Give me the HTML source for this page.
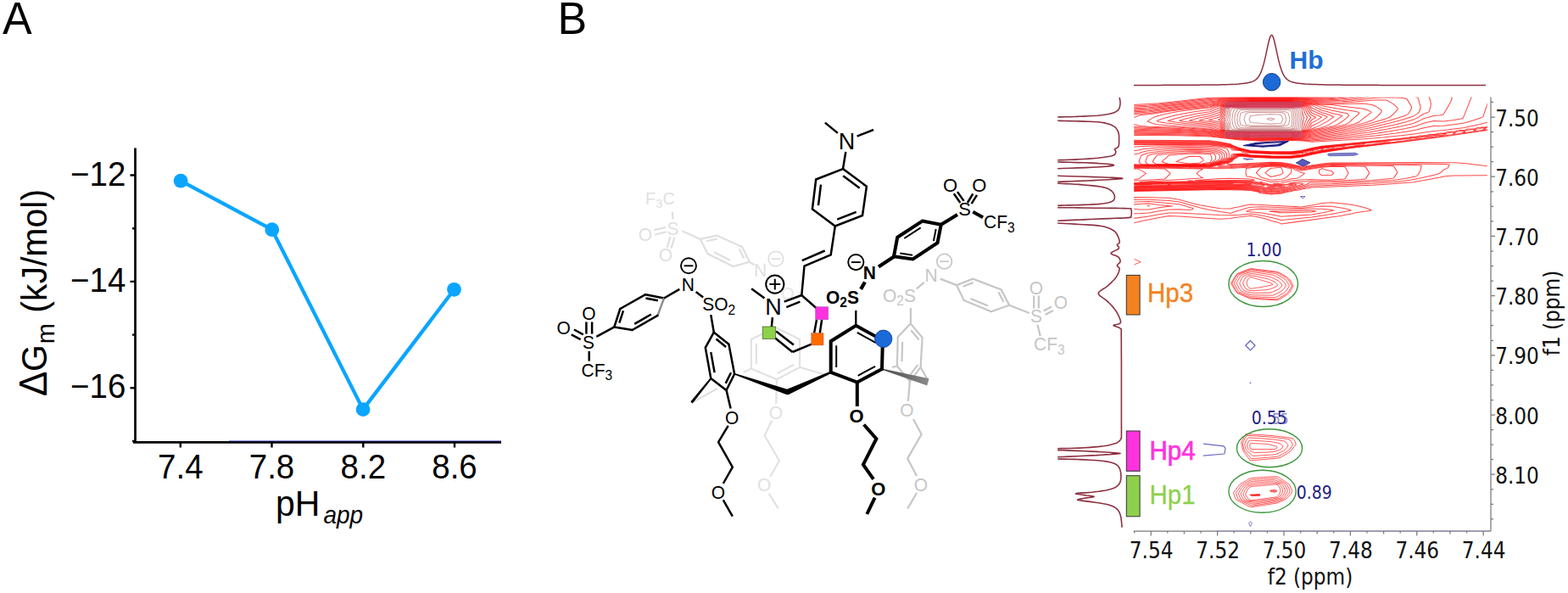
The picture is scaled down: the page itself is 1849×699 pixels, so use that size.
<!DOCTYPE html>
<html lang="en">
<head>
<meta charset="utf-8">
<title>Figure</title>
<style>
html,body{margin:0;padding:0;background:#fff;}
body{width:1849px;height:699px;overflow:hidden;}
svg{display:block;}
</style>
</head>
<body>
<svg width="1849" height="699" viewBox="0 0 1849 699">
<rect width="1849" height="699" fill="#fff"/>
<g id="panelA" font-family="Liberation Sans, Arial, sans-serif" fill="#000">
<text transform="translate(3.0,40.2) scale(1,1.045)" font-size="52" text-anchor="start">A</text>
<text transform="translate(657.4,40.2) scale(1,1.045)" font-size="52" text-anchor="start">B</text>
<path d="M159.5 174.5V521.3M157 521.3H591" stroke="#000" stroke-width="2.7" fill="none"/>
<path d="M270 519.8H591" stroke="#3434c8" stroke-width="0.9" fill="none" opacity="0.85"/>
<path d="M153.5 206.5H159.5 M156 269.2H159.5 M153.5 331.9H159.5 M156 394.6H159.5 M153.5 457.3H159.5 M156 520.0H159.5 M212.8 520.8V527.5 M320.5 520.8V527.5 M428.3 520.8V527.5 M536 520.8V527.5" stroke="#000" stroke-width="2.4" fill="none"/>
<text transform="translate(148.3,218.5) scale(1,1.045)" font-size="38.5" text-anchor="end">−12</text>
<text transform="translate(148.3,343.9) scale(1,1.045)" font-size="38.5" text-anchor="end">−14</text>
<text transform="translate(148.3,469.3) scale(1,1.045)" font-size="38.5" text-anchor="end">−16</text>
<text transform="translate(212.8,563.8) scale(1,1.045)" font-size="38.5" text-anchor="middle">7.4</text>
<text transform="translate(320.5,563.8) scale(1,1.045)" font-size="38.5" text-anchor="middle">7.8</text>
<text transform="translate(428.3,563.8) scale(1,1.045)" font-size="38.5" text-anchor="middle">8.2</text>
<text transform="translate(536,563.8) scale(1,1.045)" font-size="38.5" text-anchor="middle">8.6</text>
<text transform="translate(325,608.3) scale(1,1.045)" font-size="41" text-anchor="start">pH<tspan font-size="28" font-style="italic" dy="8" dx="4">app</tspan></text>
<text transform="translate(55,467) rotate(-90) scale(1,1.045)" font-size="41" text-anchor="start"><tspan font-size="44">Δ</tspan><tspan dx="-0.5">G</tspan><tspan font-size="29" dy="8.5" dx="1">m</tspan><tspan dy="-8.5" dx="1"> (kJ/mol)</tspan></text>
<polyline points="213.1,213.2 320.8,270.7 428.1,482.6 535.5,341.3" fill="none" stroke="#0AA5FF" stroke-width="4.3" stroke-linejoin="round"/>
<circle cx="213.1" cy="213.2" r="8.4" fill="#0AA5FF"/>
<circle cx="320.8" cy="270.7" r="8.4" fill="#0AA5FF"/>
<circle cx="428.1" cy="482.6" r="8.4" fill="#0AA5FF"/>
<circle cx="535.5" cy="341.3" r="8.4" fill="#0AA5FF"/>
</g>
<g id="mol">
<text transform="translate(761.0,241.1) scale(1,1.045)" font-family="Liberation Sans, Arial, sans-serif" font-size="20" fill="#dfdfdf" text-anchor="start">F<tspan font-size="14.8" dy="4.0">3</tspan><tspan dy="-4">C</tspan></text>
<path d="M792.6 249.7L793.6 258.5" stroke="#dfdfdf" stroke-width="2.2" stroke-linecap="butt" fill="none"/>
<text transform="translate(793.6,276.5) scale(1,1.045)" font-family="Liberation Sans, Arial, sans-serif" font-size="21" fill="#dfdfdf" text-anchor="middle">S</text>
<text transform="translate(761.0,284.0) scale(1,1.045)" font-family="Liberation Sans, Arial, sans-serif" font-size="21" fill="#dfdfdf" text-anchor="middle">O</text>
<text transform="translate(785.0,307.8) scale(1,1.045)" font-family="Liberation Sans, Arial, sans-serif" font-size="21" fill="#dfdfdf" text-anchor="middle">O</text>
<path d="M771.1 271.2L785.1 267.9" stroke="#dfdfdf" stroke-width="2.2" stroke-linecap="butt" fill="none"/>
<path d="M772.2 276.5L786.1 273.3" stroke="#dfdfdf" stroke-width="2.2" stroke-linecap="butt" fill="none"/>
<path d="M790.4 278.7L786.8 291.5" stroke="#dfdfdf" stroke-width="2.2" stroke-linecap="butt" fill="none"/>
<path d="M795.4 279.7L791.5 292.6" stroke="#dfdfdf" stroke-width="2.2" stroke-linecap="butt" fill="none"/>
<path d="M804.4 272.2L825.8 281.9" stroke="#dfdfdf" stroke-width="2.2" stroke-linecap="butt" fill="none"/>
<path d="M825.8 281.9L845.2 277.6L875.2 291.1L883.8 308.7L864.5 314.1L834.4 299.1Z" stroke="#dfdfdf" stroke-width="2.2" stroke-linejoin="miter" stroke-linecap="butt" fill="none"/>
<path d="M833.2 284.3L845.6 281.5" stroke="#dfdfdf" stroke-width="2.2" stroke-linecap="butt" fill="none"/>
<path d="M871.8 293.4L877.3 304.6" stroke="#dfdfdf" stroke-width="2.2" stroke-linecap="butt" fill="none"/>
<path d="M861.2 306.9L842.0 297.3" stroke="#dfdfdf" stroke-width="2.2" stroke-linecap="butt" fill="none"/>
<path d="M883.8 308.7L889.5 312.3" stroke="#dfdfdf" stroke-width="2.2" stroke-linecap="butt" fill="none"/>
<text transform="translate(896.7,326.1) scale(1,1.045)" font-family="Liberation Sans, Arial, sans-serif" font-size="21" fill="#dfdfdf" text-anchor="middle">N</text>
<circle cx="914.9" cy="305.1" r="8.8" fill="none" stroke="#dfdfdf" stroke-width="1.7"/>
<path d="M909.6 305.1H920.2" stroke="#dfdfdf" stroke-width="1.7" fill="none"/>
<text transform="translate(921.0,353.0) scale(1,1.045)" font-family="Liberation Sans, Arial, sans-serif" font-size="20" fill="#e6e6e6" text-anchor="start">O</text>
<path d="M885.8 400.0L914.5 386.0L943.1 400.0L943.1 432.9L915.9 447.2L885.8 434.4Z" stroke="#e2e2e2" stroke-width="2.2" stroke-linejoin="miter" stroke-linecap="butt" fill="none"/>
<path d="M891.8 429.5L891.8 404.7" stroke="#e2e2e2" stroke-width="2.2" stroke-linecap="butt" fill="none"/>
<path d="M936.1 429.8L916.5 440.1" stroke="#e2e2e2" stroke-width="2.2" stroke-linecap="butt" fill="none"/>
<path d="M885.8 434.4L876.5 439.0" stroke="#e2e2e2" stroke-width="2.2" stroke-linecap="butt" fill="none"/>
<path d="M943.1 432.9L977.4 443.0" stroke="#e2e2e2" stroke-width="2.2" stroke-linecap="butt" fill="none"/>
<path d="M915.9 447.2L915.2 476.0" stroke="#e2e2e2" stroke-width="2.2" stroke-linecap="butt" fill="none"/>
<text transform="translate(915.0,494.0) scale(1,1.045)" font-family="Liberation Sans, Arial, sans-serif" font-size="21" fill="#e2e2e2" text-anchor="middle">O</text>
<path d="M910.2 495.5L901.7 513.4L918.9 543.0L908.3 562.0" stroke="#e2e2e2" stroke-width="2.2" stroke-linejoin="round" stroke-linecap="butt" fill="none"/>
<text transform="translate(901.2,579.0) scale(1,1.045)" font-family="Liberation Sans, Arial, sans-serif" font-size="21" fill="#e2e2e2" text-anchor="middle">O</text>
<path d="M906.8 581.6L917.9 599.6" stroke="#e2e2e2" stroke-width="2.2" stroke-linecap="butt" fill="none"/>
<path d="M845.8 458.0L818.0 473.5" stroke="#e0e0e0" stroke-width="2.2" stroke-linecap="butt" fill="none"/>
<text transform="translate(1041.0,355.6) scale(1,1.045)" font-family="Liberation Sans, Arial, sans-serif" font-size="21" fill="#c6c6c6" text-anchor="start">O<tspan font-size="15.5" dy="4.2">2</tspan><tspan dy="-4.2">S</tspan></text>
<text transform="translate(1098.0,331.8) scale(1,1.045)" font-family="Liberation Sans, Arial, sans-serif" font-size="21" fill="#c6c6c6" text-anchor="middle">N</text>
<circle cx="1113.6" cy="308.2" r="8.8" fill="none" stroke="#c6c6c6" stroke-width="1.7"/>
<path d="M1108.3 308.2H1118.9" stroke="#c6c6c6" stroke-width="1.7" fill="none"/>
<path d="M1080.8 340.4L1089.8 332.9" stroke="#c6c6c6" stroke-width="2.2" stroke-linecap="butt" fill="none"/>
<path d="M1108.7 328.6L1128.0 336.1" stroke="#c6c6c6" stroke-width="2.2" stroke-linecap="butt" fill="none"/>
<path d="M1128.0 336.1L1147.3 328.6L1180.6 341.5L1190.2 359.7L1168.8 367.3L1136.6 354.0Z" stroke="#c6c6c6" stroke-width="2.2" stroke-linejoin="miter" stroke-linecap="butt" fill="none"/>
<path d="M1135.5 337.7L1147.8 332.9" stroke="#c6c6c6" stroke-width="2.2" stroke-linecap="butt" fill="none"/>
<path d="M1177.4 344.3L1183.5 355.9" stroke="#c6c6c6" stroke-width="2.2" stroke-linecap="butt" fill="none"/>
<path d="M1165.1 360.4L1144.5 351.9" stroke="#c6c6c6" stroke-width="2.2" stroke-linecap="butt" fill="none"/>
<path d="M1190.2 359.7L1213.8 369.0" stroke="#c6c6c6" stroke-width="2.2" stroke-linecap="butt" fill="none"/>
<text transform="translate(1222.0,380.3) scale(1,1.045)" font-family="Liberation Sans, Arial, sans-serif" font-size="21" fill="#c6c6c6" text-anchor="middle">S</text>
<text transform="translate(1222.0,347.1) scale(1,1.045)" font-family="Liberation Sans, Arial, sans-serif" font-size="21" fill="#c6c6c6" text-anchor="middle">O</text>
<text transform="translate(1251.0,364.1) scale(1,1.045)" font-family="Liberation Sans, Arial, sans-serif" font-size="21" fill="#c6c6c6" text-anchor="middle">O</text>
<path d="M1219.2 348.5L1219.2 363.5" stroke="#c6c6c6" stroke-width="2.2" stroke-linecap="butt" fill="none"/>
<path d="M1224.8 348.5L1224.8 363.5" stroke="#c6c6c6" stroke-width="2.2" stroke-linecap="butt" fill="none"/>
<path d="M1230.5 366.5L1240.0 361.5" stroke="#c6c6c6" stroke-width="2.2" stroke-linecap="butt" fill="none"/>
<path d="M1232.5 371.0L1242.0 366.0" stroke="#c6c6c6" stroke-width="2.2" stroke-linecap="butt" fill="none"/>
<path d="M1223.5 382.8L1226.7 396.2" stroke="#c6c6c6" stroke-width="2.2" stroke-linecap="butt" fill="none"/>
<text transform="translate(1219.0,413.4) scale(1,1.045)" font-family="Liberation Sans, Arial, sans-serif" font-size="21" fill="#c6c6c6" text-anchor="start">CF<tspan font-size="15.5" dy="4.2">3</tspan></text>
<path d="M1073.9 363.0L1073.9 381.4" stroke="#c6c6c6" stroke-width="2.2" stroke-linecap="butt" fill="none"/>
<path d="M1073.7 381.4L1087.6 397.9L1085.6 432.9L1073.0 449.4L1057.9 431.5L1058.7 397.2Z" stroke="#c6c6c6" stroke-width="2.2" stroke-linejoin="miter" stroke-linecap="butt" fill="none"/>
<path d="M1074.3 389.3L1083.7 400.5" stroke="#c6c6c6" stroke-width="2.2" stroke-linecap="butt" fill="none"/>
<path d="M1082.2 430.2L1073.7 441.4" stroke="#c6c6c6" stroke-width="2.2" stroke-linecap="butt" fill="none"/>
<path d="M1063.5 426.3L1064.1 403.0" stroke="#c6c6c6" stroke-width="2.2" stroke-linecap="butt" fill="none"/>
<path d="M1057.9 431.5L1052.0 433.0" stroke="#c6c6c6" stroke-width="2.2" stroke-linecap="butt" fill="none"/>
<path d="M1085.6 432.9L1093.5 447.0" stroke="#c6c6c6" stroke-width="2.2" stroke-linecap="butt" fill="none"/>
<path d="M1073.0 449.4L1070.8 473.0" stroke="#c6c6c6" stroke-width="2.2" stroke-linecap="butt" fill="none"/>
<text transform="translate(1069.4,491.1) scale(1,1.045)" font-family="Liberation Sans, Arial, sans-serif" font-size="21" fill="#c6c6c6" text-anchor="middle">O</text>
<path d="M1077.0 494.0L1086.6 512.0L1070.2 540.4L1081.0 561.0" stroke="#c6c6c6" stroke-width="2.2" stroke-linejoin="round" stroke-linecap="butt" fill="none"/>
<text transform="translate(1086.0,579.0) scale(1,1.045)" font-family="Liberation Sans, Arial, sans-serif" font-size="21" fill="#c6c6c6" text-anchor="middle">O</text>
<path d="M1081.0 581.0L1070.2 599.6" stroke="#c6c6c6" stroke-width="2.2" stroke-linecap="butt" fill="none"/>
<defs><linearGradient id="wg" gradientUnits="userSpaceOnUse" x1="1040" y1="435" x2="1095" y2="451"><stop offset="0" stop-color="#4a4a4a"/><stop offset="1" stop-color="#8a8a8a"/></linearGradient></defs>
<path d="M1039.8 435.7L1093.3 454.4L1095.5 446.2L1040.2 434.5Z" fill="url(#wg)"/>
<text transform="translate(694.3,376.7) scale(1,1.045)" font-family="Liberation Sans, Arial, sans-serif" font-size="21" fill="#000" text-anchor="middle">O</text>
<text transform="translate(664.7,393.9) scale(1,1.045)" font-family="Liberation Sans, Arial, sans-serif" font-size="21" fill="#000" text-anchor="middle">O</text>
<text transform="translate(694.0,411.3) scale(1,1.045)" font-family="Liberation Sans, Arial, sans-serif" font-size="21" fill="#000" text-anchor="middle">S</text>
<path d="M691.4 379.5L691.4 393.6" stroke="#000" stroke-width="2.5" stroke-linecap="butt" fill="none"/>
<path d="M698.1 379.5L698.1 393.6" stroke="#000" stroke-width="2.5" stroke-linecap="butt" fill="none"/>
<path d="M676.9 388.5L687.8 394.3" stroke="#000" stroke-width="2.5" stroke-linecap="butt" fill="none"/>
<path d="M673.7 394.3L684.6 400.1" stroke="#000" stroke-width="2.5" stroke-linecap="butt" fill="none"/>
<path d="M703.3 396.8L724.5 385.3" stroke="#000" stroke-width="2.5" stroke-linecap="butt" fill="none"/>
<path d="M694.7 414.0L694.7 425.6" stroke="#000" stroke-width="2.5" stroke-linecap="butt" fill="none"/>
<text transform="translate(685.6,443.8) scale(1,1.045)" font-family="Liberation Sans, Arial, sans-serif" font-size="21" fill="#000" text-anchor="start">CF<tspan font-size="15.5" dy="4.2">3</tspan></text>
<path d="M724.3 385.5L731.3 364.0" stroke="#000" stroke-width="2.5" stroke-linecap="round" fill="none"/>
<path d="M731.3 364.0L761.2 347.2" stroke="#000" stroke-width="2.5" stroke-linecap="round" fill="none"/>
<path d="M761.2 347.2L783.0 351.5" stroke="#000" stroke-width="2.5" stroke-linecap="round" fill="none"/>
<path d="M783.0 351.5L775.5 371.9" stroke="#8f8f8f" stroke-width="2.5" stroke-linecap="round" fill="none"/>
<path d="M775.5 371.9L745.6 389.0" stroke="#000" stroke-width="2.5" stroke-linecap="round" fill="none"/>
<path d="M745.6 389.0L724.3 385.5" stroke="#000" stroke-width="2.5" stroke-linecap="round" fill="none"/>
<path d="M730.3 380.6L735.0 366.4" stroke="#000" stroke-width="2.5" stroke-linecap="butt" fill="none"/>
<path d="M761.4 351.5L775.8 354.3" stroke="#000" stroke-width="2.5" stroke-linecap="butt" fill="none"/>
<path d="M767.9 370.5L748.2 381.8" stroke="#000" stroke-width="2.5" stroke-linecap="butt" fill="none"/>
<path d="M783.0 351.5L801.3 340.8" stroke="#000" stroke-width="2.5" stroke-linecap="butt" fill="none"/>
<text transform="translate(811.4,342.9) scale(1,1.045)" font-family="Liberation Sans, Arial, sans-serif" font-size="21" fill="#000" text-anchor="middle">N</text>
<circle cx="812.0" cy="313.3" r="9.0" fill="none" stroke="#000" stroke-width="1.9"/>
<path d="M806.6 313.3H817.4" stroke="#000" stroke-width="1.9" fill="none"/>
<path d="M820.6 344.0L829.2 350.4" stroke="#000" stroke-width="2.5" stroke-linecap="butt" fill="none"/>
<text transform="translate(828.2,366.3) scale(1,1.045)" font-family="Liberation Sans, Arial, sans-serif" font-size="21" fill="#000" text-anchor="start">SO<tspan font-size="15.5" dy="4.2">2</tspan></text>
<path d="M838.3 371.1L841.8 391.7" stroke="#000" stroke-width="2.5" stroke-linecap="butt" fill="none"/>
<path d="M841.8 391.7L859.4 405.8L866.1 440.8L856.5 460.1L838.3 446.1L831.8 409.8Z" stroke="#000" stroke-width="2.5" stroke-linejoin="miter" stroke-linecap="butt" fill="none"/>
<path d="M844.5 399.6L856.1 408.9" stroke="#000" stroke-width="2.5" stroke-linecap="butt" fill="none"/>
<path d="M862.0 439.2L855.7 451.9" stroke="#000" stroke-width="2.5" stroke-linecap="butt" fill="none"/>
<path d="M842.6 439.1L838.3 415.1" stroke="#000" stroke-width="2.5" stroke-linecap="butt" fill="none"/>
<path d="M837.5 445.5L814.3 473.6L816.7 475.4L839.1 446.7Z" fill="#000"/>
<path d="M856.6 460.1L861.6 481.5" stroke="#000" stroke-width="2.5" stroke-linecap="butt" fill="none"/>
<text transform="translate(863.1,500.3) scale(1,1.045)" font-family="Liberation Sans, Arial, sans-serif" font-size="21" fill="#000" text-anchor="middle">O</text>
<path d="M858.7 501.8L847.1 521.1L863.8 550.7L852.8 570.0" stroke="#000" stroke-width="2.5" stroke-linejoin="round" stroke-linecap="butt" fill="none"/>
<text transform="translate(846.8,587.8) scale(1,1.045)" font-family="Liberation Sans, Arial, sans-serif" font-size="21" fill="#000" text-anchor="middle">O</text>
<path d="M852.8 589.3L863.8 608.6" stroke="#000" stroke-width="2.5" stroke-linecap="butt" fill="none"/>
<path d="M972.9 144.6L987.9 156.9" stroke="#000" stroke-width="2.5" stroke-linecap="butt" fill="none"/>
<path d="M1030.0 153.0L1010.6 160.6" stroke="#000" stroke-width="2.5" stroke-linecap="butt" fill="none"/>
<text transform="translate(998.5,176.0) scale(1,1.045)" font-family="Liberation Sans, Arial, sans-serif" font-size="27" fill="#000" text-anchor="middle">N</text>
<path d="M997.3 179.0L994.0 199.1" stroke="#000" stroke-width="2.5" stroke-linecap="butt" fill="none"/>
<path d="M994.0 199.1L1021.9 219.7L1017.0 254.0L984.8 266.5L957.9 246.5L962.2 211.5Z" stroke="#000" stroke-width="2.5" stroke-linejoin="miter" stroke-linecap="butt" fill="none"/>
<path d="M994.2 207.3L1013.7 221.7" stroke="#000" stroke-width="2.5" stroke-linecap="butt" fill="none"/>
<path d="M1009.7 249.9L987.2 258.6" stroke="#000" stroke-width="2.5" stroke-linecap="butt" fill="none"/>
<path d="M965.0 242.1L968.0 217.6" stroke="#000" stroke-width="2.5" stroke-linecap="butt" fill="none"/>
<path d="M984.8 266.5L979.7 300.4L948.5 313.5L945.3 348.0" stroke="#000" stroke-width="2.5" stroke-linejoin="miter" stroke-linecap="butt" fill="none"/>
<path d="M972.7 295.5L945.8 307.2" stroke="#000" stroke-width="2.5" stroke-linecap="butt" fill="none"/>
<path d="M945.3 348.0L924.7 355.7" stroke="#000" stroke-width="2.5" stroke-linecap="butt" fill="none"/>
<path d="M943.4 355.7L927.3 362.1" stroke="#000" stroke-width="2.5" stroke-linecap="butt" fill="none"/>
<text transform="translate(911.9,371.4) scale(1,1.045)" font-family="Liberation Sans, Arial, sans-serif" font-size="27" fill="#000" text-anchor="middle">N</text>
<circle cx="913.8" cy="335.1" r="10.6" fill="none" stroke="#000" stroke-width="2.0"/>
<path d="M907.4 335.1H920.2M913.8 328.7V341.5" stroke="#000" stroke-width="2.0" fill="none"/>
<path d="M886.1 340.3L901.5 351.5" stroke="#000" stroke-width="2.5" stroke-linecap="butt" fill="none"/>
<path d="M945.3 348.0L963.0 363.5" stroke="#000" stroke-width="2.5" stroke-linecap="butt" fill="none"/>
<path d="M963.0 377.0L960.1 392.6" stroke="#000" stroke-width="2.5" stroke-linecap="butt" fill="none"/>
<path d="M969.1 377.0L966.8 392.6" stroke="#000" stroke-width="2.5" stroke-linecap="butt" fill="none"/>
<path d="M957.0 405.6L934.5 415.0" stroke="#000" stroke-width="2.5" stroke-linecap="butt" fill="none"/>
<path d="M934.5 415.0L913.5 398.0" stroke="#000" stroke-width="2.5" stroke-linecap="butt" fill="none"/>
<path d="M935.9 406.5L915.2 390.5" stroke="#000" stroke-width="2.5" stroke-linecap="butt" fill="none"/>
<path d="M910.9 374.1L909.9 385.0" stroke="#000" stroke-width="2.5" stroke-linecap="butt" fill="none"/>
<rect x="961.6" y="361.7" width="15" height="15" fill="#FF30E0" stroke="#5a1a90" stroke-width="0.7" stroke-dasharray="1 1"/>
<rect x="956.7" y="392.6" width="14.3" height="14.3" fill="#FF6A00" stroke="#a03020" stroke-width="0.7" stroke-dasharray="1 1"/>
<rect x="899.2" y="385" width="15.3" height="14.4" fill="#8CD24A" stroke="#3a5a20" stroke-width="0.7"/>
<text transform="translate(1025.3,328.7) scale(1,1.045)" font-family="Liberation Sans, Arial, sans-serif" font-size="21" fill="#000" text-anchor="middle" font-weight="bold">N</text>
<circle cx="1009.3" cy="309.1" r="9.1" fill="none" stroke="#000" stroke-width="1.9"/>
<path d="M1003.8 309.1H1014.8" stroke="#000" stroke-width="1.9" fill="none"/>
<path d="M1019.9 332.5L1015.1 340.9" stroke="#000" stroke-width="4.2" stroke-linecap="butt" fill="none"/>
<text transform="translate(974.0,358.0) scale(1,1.045)" font-family="Liberation Sans, Arial, sans-serif" font-size="21" fill="#000" text-anchor="start" font-weight="bold">O<tspan font-size="15.5" dy="4.2">2</tspan><tspan dy="-4.2">S</tspan></text>
<path d="M1009.3 366.0L1009.3 384.0" stroke="#000" stroke-width="2.3" stroke-linecap="butt" fill="none"/>
<path d="M1036.0 314.5L1054.6 302.2" stroke="#000" stroke-width="4.2" stroke-linecap="butt" fill="none"/>
<path d="M1087.6 260.5L1109.7 264.8L1105.5 286.2L1076.5 305.5L1054.0 302.3L1058.2 279.8Z" stroke="#000" stroke-width="4.0" stroke-linejoin="miter" stroke-linecap="butt" fill="none"/>
<path d="M1066.3 281.0L1085.7 268.3" stroke="#000" stroke-width="2.0" stroke-linecap="butt" fill="none"/>
<path d="M1103.7 270.0L1100.9 284.1" stroke="#000" stroke-width="2.0" stroke-linecap="butt" fill="none"/>
<path d="M1076.1 300.7L1061.3 298.6" stroke="#000" stroke-width="2.0" stroke-linecap="butt" fill="none"/>
<path d="M1109.7 264.8L1129.0 253.0" stroke="#000" stroke-width="4.0" stroke-linecap="butt" fill="none"/>
<text transform="translate(1137.6,253.6) scale(1,1.045)" font-family="Liberation Sans, Arial, sans-serif" font-size="22" fill="#000" text-anchor="middle">S</text>
<text transform="translate(1120.5,226.3) scale(1,1.045)" font-family="Liberation Sans, Arial, sans-serif" font-size="22" fill="#000" text-anchor="middle">O</text>
<text transform="translate(1154.8,226.3) scale(1,1.045)" font-family="Liberation Sans, Arial, sans-serif" font-size="22" fill="#000" text-anchor="middle">O</text>
<path d="M1124.8 228.3L1132.3 239.0" stroke="#000" stroke-width="2.5" stroke-linecap="butt" fill="none"/>
<path d="M1129.0 226.1L1136.6 236.9" stroke="#000" stroke-width="2.5" stroke-linecap="butt" fill="none"/>
<path d="M1147.3 228.3L1140.9 239.0" stroke="#000" stroke-width="2.5" stroke-linecap="butt" fill="none"/>
<path d="M1152.0 229.8L1145.6 240.1" stroke="#000" stroke-width="2.5" stroke-linecap="butt" fill="none"/>
<path d="M1147.3 249.7L1159.1 256.2" stroke="#000" stroke-width="4.0" stroke-linecap="butt" fill="none"/>
<text transform="translate(1160.0,269.3) scale(1,1.045)" font-family="Liberation Sans, Arial, sans-serif" font-size="21" fill="#000" text-anchor="start">CF<tspan font-size="15.5" dy="4.2">3</tspan></text>
<path d="M1009.3 383.8L1040.9 401.1L1040.0 435.0L1010.8 450.6L979.7 438.9L979.7 402.2Z" stroke="#000" stroke-width="4.0" stroke-linejoin="miter" stroke-linecap="butt" fill="none"/>
<path d="M1010.8 392.0L1032.9 404.1" stroke="#000" stroke-width="2.0" stroke-linecap="butt" fill="none"/>
<path d="M1032.1 431.8L1011.7 442.8" stroke="#000" stroke-width="2.0" stroke-linecap="butt" fill="none"/>
<path d="M986.2 433.0L986.2 407.3" stroke="#000" stroke-width="2.0" stroke-linecap="butt" fill="none"/>
<circle cx="1041.7" cy="399.3" r="10.2" fill="#1C69DA" stroke="#0e3f94" stroke-width="0.9"/>
<path d="M1010.8 450.6L1010.8 479.0" stroke="#000" stroke-width="4.0" stroke-linecap="butt" fill="none"/>
<text transform="translate(1010.1,498.2) scale(1,1.045)" font-family="Liberation Sans, Arial, sans-serif" font-size="22" fill="#000" text-anchor="middle" font-weight="bold">O</text>
<path d="M1018.7 500.5L1033.4 517.2L1017.9 547.6L1030.0 564.8" stroke="#000" stroke-width="4.0" stroke-linejoin="miter" stroke-linecap="butt" fill="none"/>
<text transform="translate(1035.9,584.4) scale(1,1.045)" font-family="Liberation Sans, Arial, sans-serif" font-size="22" fill="#000" text-anchor="middle" font-weight="bold">O</text>
<path d="M1031.6 586.7L1022.3 606.0" stroke="#000" stroke-width="4.0" stroke-linecap="butt" fill="none"/>
<path d="M865.8 441.6L928.4 465.6L930.6 459.4L866.4 440.0Z" fill="#000"/>
<path d="M979.2 437.8L926.4 459.5L929.2 465.5L980.2 440.0Z" fill="#000"/>
</g>
<g id="nmr">
<defs><clipPath id="cw"><rect x="1337.3" y="114.6" width="416.5" height="177.4"/></clipPath>
<clipPath id="cbox"><rect x="1444.3" y="120.0" width="91.0" height="42.0"/></clipPath>
<clipPath id="cout"><path clip-rule="evenodd" d="M1337.3 114.6H1753.8V292.0H1337.3ZM1444.3 120.0H1535.3V162.0H1444.3Z"/></clipPath>
<g id="cl" fill="none" stroke-width="1.05" stroke-linejoin="round">
<path d="M1318.7 124.1L1330.7 123.9L1354.7 122.6L1366.7 121.8L1388.3 119.6L1414.7 116.4L1426.7 115.3L1438.7 114.8L1450.7 114.7L1558.7 114.3L1583.0 112.1L1596.6 110.6M1774.7 137.7L1769.6 139.6L1762.7 141.4L1756.7 143.6L1745.2 146.6L1726.7 150.5L1714.7 152.1L1702.7 153.5L1690.7 154.5L1678.7 156.2L1670.5 157.6L1659.1 159.1L1630.6 162.1L1612.3 163.6L1596.9 164.6L1546.7 167.3L1542.5 166.6L1536.9 166.1L1522.7 165.4L1486.7 166.2L1474.7 165.6L1462.7 164.9L1426.7 161.0L1390.7 159.8L1318.7 159.5M1774.7 151.2L1764.2 152.1L1756.1 153.1L1702.7 160.9L1652.7 167.6L1594.7 174.3L1558.7 179.8L1546.7 182.2L1534.7 184.9L1525.1 186.1L1522.7 186.3L1498.7 186.2L1474.7 185.3L1462.7 183.9L1460.4 184.6L1458.3 185.6L1454.4 188.1L1453.4 189.6L1452.3 190.6L1448.0 192.1L1447.6 192.6L1450.7 193.7L1498.7 191.3L1510.7 191.6L1522.7 193.4L1526.5 194.6L1534.7 196.3L1545.2 195.1L1556.2 193.6L1558.7 193.1L1570.7 191.9L1678.7 191.6L1714.7 191.7L1726.7 192.6L1762.7 196.8L1774.7 197.6M1318.7 165.2L1426.7 165.8L1432.0 166.6L1438.7 167.3L1444.0 168.6L1450.7 169.6L1455.1 172.1L1460.2 174.1L1462.7 174.8L1474.7 177.6L1498.7 178.7L1522.7 178.8L1534.7 177.4L1546.7 174.6L1558.7 172.3L1649.2 163.6L1661.8 162.1L1663.3 161.6L1669.6 161.1L1672.8 160.6L1674.1 160.1L1678.7 159.9L1681.6 159.6L1686.2 158.6L1690.7 158.5L1693.6 158.1L1694.7 157.6L1697.4 157.1L1702.7 156.9L1705.1 156.6L1705.5 156.1L1707.0 155.6L1715.5 155.1L1717.0 154.6L1717.8 154.1L1721.5 153.6L1726.7 153.4L1728.9 153.1L1729.2 152.6L1730.7 152.1L1738.7 151.8L1740.1 151.6L1742.3 150.6L1748.0 150.1L1750.7 150.1L1754.3 149.6L1753.9 149.1L1756.4 148.6L1762.7 148.3L1774.7 147.3M1774.7 206.7L1714.7 207.0L1707.3 207.6L1702.7 208.0L1698.1 209.1L1685.0 211.6L1670.4 214.1L1666.7 214.7L1657.1 215.6L1630.7 217.6L1618.7 218.3L1558.7 220.4L1546.7 221.1L1542.4 222.1L1537.6 222.6L1531.2 224.1L1526.5 224.6L1520.2 226.1L1516.5 226.6L1514.1 227.1L1510.7 228.3L1498.7 229.1L1495.9 228.6L1486.7 227.7L1484.3 226.6L1482.7 226.1L1474.7 224.6L1462.7 223.9L1438.7 223.6L1330.7 225.6L1318.7 225.0M1330.7 232.6L1354.7 232.7L1378.7 233.3L1382.6 234.1L1390.7 235.3L1394.5 236.6L1400.5 238.1L1405.6 239.6L1414.7 241.7L1438.7 245.7L1450.7 246.1L1457.0 244.6L1460.3 244.1L1466.6 242.6L1474.7 241.0L1486.7 241.5L1534.7 243.9L1554.8 240.6L1558.7 239.6L1570.7 238.7L1587.9 240.6L1597.7 242.1L1604.4 243.6L1611.7 245.6L1616.7 247.6L1617.0 248.1L1610.9 249.1L1606.7 249.6L1597.7 251.1L1594.7 251.8L1585.1 253.6L1582.7 254.2L1577.1 255.1L1510.7 263.9L1508.2 262.6L1498.7 260.2L1494.7 258.6L1482.4 255.6L1474.7 254.3L1455.7 256.6L1450.7 257.6L1438.7 258.2L1390.7 255.0L1378.7 254.6L1369.7 256.1L1346.1 260.6L1342.7 261.6L1333.3 263.6L1330.7 264.7L1329.8 242.6L1330.1 236.6L1330.7 232.6"/>
<path d="M1757.9 110.6L1753.5 124.1L1748.8 137.6L1746.9 138.6L1744.5 139.6L1735.3 142.6L1726.7 145.0L1714.7 146.7L1702.7 148.2L1690.7 148.5L1678.7 150.7L1670.2 153.1L1662.7 154.6L1646.1 157.1L1622.3 160.1L1596.5 162.6L1546.7 166.1L1534.7 165.2L1522.7 164.8L1486.7 165.6L1462.7 164.3L1450.7 163.1L1438.7 161.4L1426.7 160.1L1390.7 158.7L1318.7 158.2M1318.7 125.5L1330.7 125.3L1354.7 124.0L1366.7 123.0L1378.7 121.8L1414.7 117.6L1431.9 116.1L1450.7 115.3L1470.0 115.1L1522.7 115.0L1558.7 115.3L1577.2 113.6L1600.6 110.6M1774.7 150.6L1758.0 152.1L1750.7 153.4L1747.9 153.6L1738.7 155.1L1733.6 155.6L1726.7 156.8L1723.4 157.1L1714.7 158.6L1709.4 159.1L1702.7 160.3L1699.2 160.6L1690.7 161.9L1654.7 166.8L1594.7 173.9L1558.7 179.4L1545.5 182.1L1534.7 184.6L1526.5 185.6L1522.7 186.0L1498.7 185.9L1474.7 184.9L1462.7 183.5L1460.4 184.1L1458.1 185.1L1453.6 188.1L1452.3 189.6L1451.6 190.1L1448.3 191.6L1446.7 192.1L1446.0 192.6L1446.8 193.1L1447.7 194.1L1450.7 194.6L1474.7 193.4L1498.7 192.0L1510.7 192.2L1522.7 194.1L1526.1 195.1L1531.0 196.1L1534.7 197.2L1546.7 195.7L1558.7 193.9L1570.7 192.8L1678.7 193.2L1702.7 193.6L1709.2 194.1L1708.1 196.6L1706.8 198.1L1705.1 199.1L1702.7 199.8L1698.0 204.1L1695.6 205.1L1694.2 205.6L1684.0 208.1L1672.3 210.6L1664.0 212.1L1654.7 213.4L1642.7 214.6L1618.7 216.3L1591.1 217.6L1546.7 219.2L1541.3 220.6L1529.8 223.1L1522.7 224.4L1510.7 227.3L1498.7 228.2L1486.7 226.8L1483.2 225.6L1474.7 223.8L1462.7 223.2L1438.7 223.0L1330.7 225.0L1324.6 224.6L1321.2 224.1L1318.7 223.4M1318.7 165.9L1426.7 166.5L1438.7 168.0L1441.1 168.6L1450.7 170.2L1455.1 172.6L1460.3 174.6L1474.7 178.0L1498.7 179.1L1522.7 179.2L1534.7 177.8L1546.7 175.0L1558.7 172.7L1644.8 164.6L1658.5 163.1L1677.8 160.6L1683.2 160.1L1689.8 159.1L1695.5 158.6L1701.3 157.6L1707.2 157.1L1711.3 156.1L1717.2 155.6L1720.8 155.1L1722.0 154.6L1731.7 153.6L1735.7 152.6L1742.0 152.1L1745.1 151.6L1746.4 151.1L1756.1 150.1L1760.5 149.1L1774.7 147.9M1330.7 235.6L1342.7 235.2L1354.7 235.2L1378.7 236.5L1390.7 238.0L1414.7 244.8L1426.7 247.4L1438.7 249.6L1445.7 250.6L1450.7 251.6L1457.6 249.1L1462.7 247.7L1469.2 245.6L1474.7 244.2L1486.7 243.8L1534.7 245.5L1546.7 244.0L1558.7 242.9L1570.7 243.2L1584.5 245.6L1590.7 247.1L1592.4 247.6L1593.2 248.1L1577.7 251.1L1566.2 253.1L1546.7 256.0L1510.7 259.5L1505.5 258.1L1490.5 254.6L1482.3 253.1L1474.7 252.1L1462.7 253.2L1450.7 253.7L1438.7 253.5L1390.7 250.9L1378.7 250.9L1366.7 252.8L1354.7 255.0L1330.7 258.2L1330.1 243.1L1330.7 235.6"/>
<path d="M1735.9 110.6L1736.0 111.1L1735.6 113.1L1731.4 124.1L1726.7 135.9L1725.2 139.1L1724.7 139.6L1722.7 140.1L1714.7 141.4L1702.7 142.9L1690.7 142.5L1678.7 145.2L1674.3 147.1L1668.5 149.1L1664.7 150.1L1657.5 151.6L1646.5 153.6L1627.6 156.6L1613.4 158.6L1601.0 160.1L1591.2 161.1L1546.7 165.0L1522.7 164.3L1486.7 165.0L1462.7 163.8L1450.7 162.5L1438.7 160.7L1426.7 159.2L1390.7 157.7L1318.7 156.9M1318.7 126.9L1330.7 126.7L1354.7 125.3L1378.7 123.0L1414.7 118.8L1432.3 117.1L1447.6 116.1L1462.7 115.7L1474.7 115.6L1522.7 115.5L1558.7 116.3L1570.7 115.4L1582.7 114.3L1594.1 112.6L1604.6 110.6M1774.7 149.9L1769.6 150.1L1763.9 150.6L1762.7 151.1L1761.6 150.6L1762.3 149.6L1762.7 149.5L1773.1 149.1L1774.0 148.6L1774.7 148.5M1750.2 151.6L1750.7 151.4L1752.0 151.6L1751.4 152.1L1751.1 152.6L1750.7 152.7L1748.8 152.6L1749.9 152.1L1750.2 151.6M1738.2 153.1L1740.8 153.1L1739.5 153.6L1739.2 154.1L1738.7 154.3L1737.5 154.1L1738.1 153.6L1738.2 153.1M1726.2 155.1L1726.7 154.8L1727.8 155.1L1727.3 155.6L1727.1 156.1L1724.4 156.1L1725.8 155.6L1726.2 155.1M1714.2 156.6L1716.4 156.6L1715.5 157.1L1715.2 157.6L1714.7 157.8L1713.4 157.6L1714.0 157.1L1714.2 156.6M1318.7 166.7L1426.7 167.3L1438.7 168.7L1450.7 170.8L1455.1 173.1L1460.4 175.1L1474.7 178.4L1498.7 179.5L1522.7 179.6L1534.7 178.2L1546.7 175.4L1558.7 173.1L1630.7 166.4L1635.4 166.1L1642.7 165.3L1647.3 165.1L1654.7 164.0L1662.0 163.6L1666.7 162.5L1675.0 162.1L1678.7 161.1L1688.3 160.6L1690.5 159.6L1701.4 159.1L1702.4 158.1L1705.7 158.1L1703.7 158.6L1703.1 159.6L1702.7 159.7L1693.5 160.1L1692.2 160.6L1691.7 161.1L1690.7 161.3L1684.0 161.6L1681.3 162.1L1680.4 162.6L1678.7 162.9L1670.4 163.6L1666.9 164.6L1659.8 165.1L1655.9 166.1L1649.7 166.6L1644.4 167.6L1639.0 168.1L1636.2 168.6L1593.6 173.6L1558.7 179.0L1546.1 181.6L1534.7 184.3L1522.7 185.7L1498.7 185.5L1487.8 185.1L1474.7 184.5L1462.7 183.1L1460.5 183.6L1457.8 184.6L1452.8 188.1L1451.1 189.6L1448.1 191.1L1445.3 192.1L1444.5 192.6L1444.6 193.1L1444.0 193.6L1442.1 194.1L1438.7 194.4L1437.4 195.1L1438.7 195.8L1450.7 195.6L1474.7 194.3L1498.7 192.7L1510.7 192.9L1522.7 194.9L1529.8 196.6L1534.7 198.2L1558.7 194.8L1570.7 193.6L1666.7 194.6L1676.2 195.1L1674.8 201.6L1671.8 206.6L1669.1 208.1L1657.0 210.6L1642.7 212.4L1622.2 214.1L1606.8 215.1L1570.7 216.8L1546.7 217.3L1540.6 219.1L1528.5 222.1L1522.7 223.3L1510.7 226.3L1498.7 227.2L1486.7 225.8L1481.9 224.6L1474.7 223.1L1462.7 222.5L1438.7 222.4L1330.7 224.5L1323.8 223.6L1320.3 222.6L1318.7 221.8M1338.9 238.1L1354.7 237.6L1390.7 240.7L1398.6 243.1L1399.7 243.6L1407.0 245.6L1406.3 246.6L1405.0 247.1L1402.7 247.4L1390.7 246.8L1378.7 247.1L1366.7 248.8L1354.7 251.0L1342.7 251.8L1330.7 251.8L1330.4 243.1L1330.7 238.7L1338.9 238.1M1481.7 246.6L1486.7 246.2L1510.7 246.8L1534.7 247.1L1546.7 246.2L1558.7 246.2L1567.3 247.1L1572.9 248.1L1561.0 250.6L1546.7 253.0L1510.7 255.2L1502.7 253.6L1487.6 251.1L1471.6 249.6L1470.0 249.1L1470.7 248.6L1473.9 247.6L1474.7 247.4L1481.7 246.6"/>
<path d="M1709.9 110.6L1710.6 111.6L1712.2 115.6L1711.5 118.1L1708.4 124.1L1704.7 130.6L1702.6 134.1L1701.3 135.1L1700.0 135.6L1697.1 136.1L1690.7 136.5L1678.7 139.7L1673.3 142.6L1666.7 145.4L1660.2 147.1L1651.5 149.1L1636.4 152.1L1613.6 156.1L1592.0 159.1L1546.7 163.8L1522.7 163.7L1486.7 164.4L1462.7 163.2L1450.7 161.9L1438.7 159.9L1426.7 158.3L1390.7 156.6L1318.7 155.6M1318.7 128.3L1330.7 128.1L1354.7 126.7L1366.7 125.5L1414.7 119.9L1432.6 118.1L1450.7 116.6L1474.7 116.1L1522.7 116.0L1534.7 116.3L1558.7 117.3L1577.2 116.1L1591.2 114.6L1599.8 113.1L1610.5 110.6M1318.7 167.4L1426.7 168.0L1438.7 169.4L1450.7 171.5L1453.9 173.1L1458.6 175.1L1474.7 178.7L1498.7 179.9L1522.7 180.0L1534.9 178.6L1546.7 175.8L1558.7 173.5L1606.7 169.0L1613.6 168.6L1618.7 168.0L1627.3 167.6L1629.0 167.1L1630.7 166.9L1639.2 167.1L1634.6 167.6L1632.6 168.1L1631.9 168.6L1624.5 169.1L1619.3 170.1L1613.3 170.6L1610.9 171.1L1601.6 172.1L1590.4 173.6L1556.1 179.1L1544.0 181.6L1540.7 182.6L1534.7 183.9L1522.7 185.4L1495.8 185.1L1474.7 184.2L1462.7 182.8L1458.7 183.6L1457.4 184.1L1455.8 185.1L1454.8 186.1L1450.7 189.2L1446.7 191.1L1443.9 192.1L1442.9 192.6L1442.4 193.1L1440.8 193.6L1438.7 193.9L1436.6 194.6L1435.7 195.1L1436.1 196.1L1437.1 196.6L1438.7 196.8L1450.7 196.5L1462.7 195.9L1474.7 195.2L1498.7 193.4L1510.7 193.5L1522.7 195.6L1528.6 197.1L1534.7 199.1L1558.7 195.6L1570.7 194.5L1642.9 195.6L1643.6 196.1L1644.9 198.1L1647.6 203.1L1647.7 203.6L1644.0 209.1L1643.1 210.1L1642.7 210.2L1618.7 212.4L1594.7 214.0L1570.7 215.1L1546.7 215.3L1543.3 215.6L1542.5 216.1L1542.8 216.6L1540.2 217.6L1529.5 220.6L1522.7 222.2L1511.8 225.1L1510.7 225.3L1498.7 226.3L1486.7 224.9L1481.2 223.6L1474.7 222.3L1462.7 221.9L1438.7 221.8L1330.7 223.9L1325.5 223.1L1323.5 222.6L1320.8 221.6L1318.7 220.2M1353.4 240.1L1354.7 240.1L1366.7 241.6L1382.4 243.1L1378.7 243.3L1366.7 244.8L1354.7 246.9L1342.7 246.9L1340.0 246.6L1330.7 245.4L1330.7 241.8L1342.7 240.5L1353.4 240.1M1539.0 248.6L1546.7 248.4L1550.3 248.6L1551.5 249.1L1546.7 249.9L1510.7 250.8L1496.8 249.1L1498.7 248.8L1510.7 248.9L1539.0 248.6"/>
<path d="M1679.0 110.6L1681.9 112.1L1684.1 113.6L1685.1 114.6L1685.8 115.6L1687.4 122.1L1687.0 125.6L1685.4 131.1L1685.0 131.6L1683.4 132.6L1682.3 133.1L1678.7 134.2L1672.7 138.1L1666.7 141.1L1658.6 143.6L1646.9 146.6L1626.3 151.1L1613.7 153.6L1602.5 155.6L1592.5 157.1L1564.6 160.6L1546.7 162.6L1536.9 163.1L1522.7 163.1L1486.7 163.8L1462.7 162.6L1450.7 161.3L1438.7 159.2L1426.7 157.5L1390.7 155.6L1318.7 154.3M1318.7 129.7L1330.7 129.5L1354.7 128.0L1390.7 123.8L1426.7 119.9L1441.5 118.1L1450.7 117.2L1462.7 116.8L1474.7 116.6L1522.7 116.5L1534.7 116.9L1558.7 118.3L1581.0 117.1L1591.3 116.1L1598.3 115.1L1610.8 112.6L1618.8 110.6M1318.7 168.2L1390.7 168.4L1426.7 168.8L1438.7 170.1L1450.7 172.1L1456.8 175.1L1458.3 175.6L1466.0 177.1L1471.3 178.6L1474.5 179.1L1498.7 180.3L1510.7 180.5L1522.7 180.5L1537.5 178.6L1540.8 177.6L1546.7 176.2L1558.7 173.9L1582.7 171.7L1586.0 171.6L1594.7 170.6L1605.7 170.1L1606.2 169.6L1606.7 169.5L1609.7 169.6L1608.0 170.1L1607.3 170.6L1607.0 171.1L1598.7 171.6L1594.7 172.5L1589.2 173.1L1585.2 174.1L1556.1 178.6L1552.4 179.6L1541.9 181.6L1539.2 182.6L1534.7 183.6L1522.7 185.0L1498.7 184.9L1474.7 183.8L1462.7 182.4L1461.1 182.6L1458.5 183.1L1455.9 184.1L1454.7 185.1L1453.9 186.1L1450.7 188.5L1446.5 190.6L1440.2 193.1L1435.1 194.6L1434.0 195.1L1433.6 195.6L1432.6 196.1L1426.7 196.8L1402.4 197.1L1438.7 197.7L1450.7 197.5L1474.7 196.1L1498.7 194.0L1510.7 194.2L1523.7 196.6L1529.1 198.1L1534.7 200.1L1558.7 196.4L1570.7 195.4L1607.3 196.1L1610.3 196.6L1613.1 201.1L1614.5 203.6L1614.6 204.1L1610.5 210.6L1609.5 211.1L1605.0 211.6L1594.7 212.3L1570.7 213.5L1546.7 213.4L1534.7 214.2L1522.7 215.4L1519.9 216.1L1522.7 216.3L1534.7 216.3L1536.8 216.6L1536.5 217.1L1528.5 219.6L1510.7 224.4L1498.7 225.4L1486.7 224.0L1474.7 221.6L1462.7 221.2L1438.7 221.2L1330.7 223.3L1326.7 222.6L1323.3 221.6L1320.4 220.1L1318.7 218.6M1352.7 242.6L1355.5 242.6L1354.7 242.8L1352.7 242.6"/>
<path d="M1318.7 131.2L1330.7 130.9L1354.7 129.4L1390.7 124.9L1426.7 121.1L1443.9 118.6L1450.7 117.9L1462.7 117.3L1474.7 117.1L1522.7 117.0L1537.0 117.6L1558.7 119.3L1564.7 119.1L1582.7 118.3L1594.7 117.3L1611.2 114.6L1618.7 113.0L1642.7 111.0L1654.7 110.8L1666.7 112.8L1669.7 114.1L1672.1 115.6L1672.5 116.1L1672.9 117.6L1675.1 126.1L1674.0 131.1L1671.5 134.1L1670.7 134.6L1666.7 136.9L1664.8 137.6L1657.4 140.1L1647.1 143.1L1622.6 149.1L1611.6 151.6L1598.9 154.1L1589.8 155.6L1565.1 159.1L1540.5 162.1L1534.7 162.5L1486.7 163.2L1474.7 162.7L1462.7 162.1L1450.7 160.7L1444.4 159.6L1438.7 158.4L1426.7 156.6L1390.7 154.5L1318.7 152.9M1318.7 168.9L1390.7 169.2L1426.7 169.5L1438.7 170.8L1450.7 172.7L1453.7 174.1L1455.1 175.1L1456.2 175.6L1457.9 176.1L1462.7 176.7L1466.5 177.6L1468.8 178.6L1471.2 179.1L1474.7 179.5L1498.7 180.7L1510.7 180.9L1522.7 180.9L1537.7 179.1L1540.1 178.6L1542.6 177.6L1546.7 176.6L1551.2 176.1L1554.8 175.1L1558.7 174.3L1570.7 173.2L1575.7 173.1L1582.7 172.2L1586.1 172.6L1584.6 173.1L1584.0 173.6L1582.7 174.0L1576.8 174.6L1573.2 175.6L1565.7 176.6L1563.7 177.1L1553.4 178.6L1550.7 179.6L1546.7 180.4L1541.5 181.1L1539.9 181.6L1537.7 182.6L1534.7 183.3L1522.7 184.7L1498.7 184.6L1474.7 183.4L1462.7 182.0L1458.1 182.6L1455.2 183.6L1453.9 184.6L1453.0 186.1L1450.7 187.9L1447.9 189.1L1445.2 190.6L1439.8 192.6L1433.7 194.6L1431.3 195.6L1429.1 196.1L1426.7 196.4L1402.7 196.7L1354.7 196.4L1320.5 196.6L1354.7 197.1L1438.7 198.7L1450.7 198.4L1474.7 196.9L1498.7 194.7L1510.7 194.8L1522.8 197.1L1528.1 198.6L1529.7 199.6L1530.9 200.1L1534.7 201.0L1538.7 200.6L1543.6 199.6L1551.4 198.6L1553.4 198.1L1558.7 197.3L1570.7 196.2L1582.7 196.5L1585.0 196.6L1586.3 197.1L1590.1 204.1L1586.3 210.6L1585.0 211.1L1570.7 211.9L1558.7 211.9L1546.7 211.5L1534.7 212.0L1522.7 213.1L1510.7 216.0L1501.3 216.6L1502.6 217.1L1510.7 217.5L1522.7 217.0L1524.9 217.1L1528.2 217.6L1529.2 218.1L1510.7 223.4L1498.7 224.5L1486.7 223.1L1474.7 220.8L1462.7 220.5L1438.7 220.6L1330.7 222.7L1325.8 221.6L1323.2 220.6L1320.7 219.1L1318.7 217.1M1450.7 210.3L1438.7 210.6L1409.2 212.6L1414.7 212.9L1450.7 212.5L1462.7 212.5L1474.7 212.8L1478.3 212.6L1479.0 212.1L1474.7 211.0L1462.7 210.4L1450.7 210.3M1402.7 213.0L1401.0 213.1L1406.6 213.1L1402.7 213.0M1486.7 214.2L1485.9 214.6L1486.7 214.8L1488.6 214.6L1486.7 214.2"/>
<path d="M1318.7 132.6L1330.7 132.3L1354.7 130.7L1390.7 126.1L1426.7 122.2L1442.5 119.6L1450.0 118.6L1462.7 117.9L1474.7 117.6L1522.7 117.5L1535.2 118.1L1558.7 120.3L1582.7 119.7L1591.8 119.1L1601.0 118.1L1618.7 115.5L1630.7 114.9L1642.7 114.7L1654.7 115.5L1658.8 116.6L1659.3 117.1L1661.8 121.1L1664.6 126.1L1664.7 126.6L1664.4 127.6L1663.2 130.1L1660.9 134.1L1659.0 135.1L1657.7 136.1L1648.8 139.1L1636.7 142.6L1611.9 149.1L1600.9 151.6L1593.2 153.1L1562.1 158.1L1541.6 161.1L1534.7 161.8L1486.7 162.5L1474.7 162.1L1462.7 161.5L1450.7 160.1L1445.3 159.1L1438.7 157.6L1426.7 155.7L1390.7 153.5L1354.7 152.7L1330.7 151.8L1318.7 151.6M1318.7 169.7L1402.7 170.0L1426.7 170.3L1438.7 171.5L1450.7 173.3L1452.4 174.1L1454.0 175.6L1455.0 176.1L1457.1 176.6L1462.7 177.1L1464.9 177.6L1466.4 178.6L1467.8 179.1L1470.8 179.6L1498.7 181.1L1522.7 181.3L1525.4 181.1L1534.7 179.9L1538.7 179.6L1541.3 179.1L1542.8 178.6L1544.3 177.6L1546.7 177.0L1552.4 176.6L1554.6 176.1L1556.9 175.1L1558.7 174.8L1565.2 174.6L1570.7 173.7L1573.5 174.1L1572.2 174.6L1571.7 175.1L1570.7 175.6L1564.5 176.1L1561.2 177.1L1552.4 178.1L1550.7 178.6L1548.9 179.6L1546.7 180.1L1544.5 180.1L1540.6 180.6L1538.8 181.1L1536.2 182.6L1534.7 182.9L1531.6 183.1L1522.7 184.4L1498.7 184.2L1474.7 183.0L1468.1 182.1L1462.7 181.6L1457.3 182.1L1455.1 182.6L1454.0 183.1L1452.9 184.1L1452.1 186.1L1450.7 187.2L1448.4 188.1L1443.8 190.6L1433.9 194.1L1429.0 195.6L1426.7 196.0L1402.7 196.3L1318.7 195.7M1496.6 195.6L1498.7 195.4L1510.7 195.5L1522.7 197.8L1525.5 198.6L1526.3 199.6L1527.8 200.6L1530.9 201.6L1533.5 203.1L1534.7 203.6L1538.2 204.1L1538.3 204.6L1532.7 208.6L1530.2 210.1L1522.7 210.8L1510.7 213.7L1498.7 214.5L1488.4 212.1L1474.7 208.4L1470.2 208.1L1469.6 206.6L1469.1 203.6L1469.3 198.6L1481.1 197.1L1496.6 195.6M1318.7 197.3L1343.8 197.6L1415.7 199.1L1418.2 199.6L1416.0 200.6L1414.3 201.6L1411.2 204.1L1411.3 204.6L1413.5 206.6L1415.7 208.1L1418.6 209.6L1415.0 210.1L1393.5 211.6L1343.9 214.6L1354.7 214.7L1438.7 213.2L1462.7 213.2L1476.2 213.6L1480.1 214.1L1481.4 214.6L1486.7 215.6L1492.8 216.1L1495.5 217.1L1498.7 217.6L1510.7 218.2L1522.7 217.7L1525.1 218.1L1522.7 218.8L1520.6 219.1L1518.7 220.1L1510.7 222.4L1498.7 223.6L1486.7 222.2L1474.7 220.1L1462.7 219.8L1438.7 220.0L1330.7 222.2L1326.6 221.1L1323.1 219.6L1321.6 218.6L1321.0 216.6L1320.7 216.1L1319.6 215.6L1318.7 215.5M1558.6 198.6L1559.4 198.6L1561.4 199.6L1564.5 200.6L1570.7 201.7L1572.5 204.1L1570.7 206.2L1558.7 206.8L1555.4 204.1L1555.6 200.1L1558.0 199.6L1558.5 199.1L1558.6 198.6"/>
<path d="M1318.7 134.0L1330.7 133.7L1354.7 132.1L1390.7 127.2L1426.7 123.4L1444.2 120.1L1450.7 119.2L1462.7 118.4L1474.7 118.1L1522.7 118.1L1534.7 118.7L1558.7 121.3L1582.7 121.0L1592.4 120.6L1598.7 120.1L1618.7 117.9L1630.7 117.9L1633.8 118.1L1636.1 118.6L1641.4 121.6L1643.6 123.1L1647.9 127.1L1648.2 127.6L1648.3 128.6L1648.1 129.1L1644.9 132.6L1639.1 138.1L1636.1 139.1L1634.2 140.1L1632.6 140.6L1614.0 146.1L1600.4 149.6L1588.5 152.1L1565.8 156.1L1546.7 159.1L1542.2 160.1L1534.7 161.1L1522.7 161.5L1486.7 161.9L1474.7 161.6L1462.7 160.9L1450.7 159.5L1443.7 158.1L1438.7 156.9L1426.7 154.9L1390.7 152.4L1354.7 151.5L1330.7 150.5L1318.7 150.3M1318.7 170.4L1390.7 170.6L1426.7 171.1L1438.7 172.2L1443.1 173.1L1450.7 173.9L1451.1 174.1L1452.1 176.1L1452.8 176.6L1454.7 177.1L1462.7 177.5L1463.2 177.6L1464.4 179.1L1465.4 179.6L1469.5 180.1L1498.7 181.5L1510.7 181.8L1526.5 181.6L1531.6 181.1L1532.8 180.6L1534.7 180.3L1536.7 180.6L1536.1 181.1L1535.5 182.1L1534.7 182.6L1525.7 183.1L1522.7 184.0L1498.7 183.8L1474.7 182.7L1470.4 181.6L1462.7 181.3L1455.0 181.6L1452.9 182.1L1452.2 182.6L1451.4 184.1L1451.2 186.1L1450.7 186.5L1447.7 187.6L1442.5 190.6L1432.5 194.1L1426.7 195.6L1402.7 196.0L1318.7 195.3M1558.1 175.6L1558.7 175.3L1560.8 175.6L1559.8 176.1L1558.7 177.1L1557.5 176.6L1558.1 175.6M1546.0 177.6L1546.7 177.4L1549.4 177.6L1548.0 178.6L1547.1 179.6L1546.7 179.7L1545.1 179.6L1544.9 179.1L1546.0 177.6M1493.5 196.6L1498.7 196.1L1510.7 196.2L1513.1 196.6L1516.0 197.6L1518.3 198.1L1522.9 198.6L1522.8 201.6L1522.1 204.1L1518.9 207.1L1515.1 210.1L1514.0 210.6L1510.7 211.4L1498.7 212.2L1492.1 210.6L1487.4 209.1L1483.9 206.1L1481.4 203.6L1483.9 200.6L1487.0 197.6L1493.5 196.6M1318.7 198.0L1342.7 198.3L1373.8 199.1L1379.9 204.1L1379.9 204.6L1374.6 210.1L1374.1 210.6L1372.9 211.1L1330.7 213.6L1318.7 213.9M1421.6 214.1L1450.7 213.8L1462.7 213.9L1474.7 214.2L1498.7 218.3L1510.7 218.9L1512.5 219.1L1515.0 219.6L1515.3 220.1L1510.7 221.4L1498.7 222.7L1486.7 221.3L1474.7 219.3L1462.7 219.1L1438.7 219.3L1330.7 221.6L1326.0 220.1L1323.1 218.6L1322.9 218.1L1323.6 217.1L1324.3 216.6L1325.7 216.1L1330.7 215.6L1421.6 214.1"/>
<path d="M1318.7 135.4L1330.7 135.1L1354.7 133.4L1390.7 128.4L1426.7 124.5L1443.0 121.1L1450.7 119.8L1462.7 118.9L1474.7 118.6L1522.7 118.6L1537.9 119.6L1558.7 122.3L1582.7 122.4L1606.7 122.1L1611.6 122.6L1618.7 123.7L1621.8 125.1L1624.4 126.6L1627.2 128.6L1629.4 130.6L1628.8 132.1L1626.7 134.6L1624.3 137.1L1621.3 139.6L1617.9 142.1L1614.5 143.1L1610.8 144.6L1599.9 147.6L1589.2 150.1L1566.1 154.6L1546.7 157.9L1542.5 159.1L1534.7 160.4L1522.7 160.9L1486.7 161.3L1474.7 161.0L1462.7 160.3L1450.7 158.8L1444.5 157.6L1438.7 156.1L1426.7 154.0L1390.7 151.4L1354.7 150.3L1330.7 149.2L1318.7 149.0M1318.7 182.7L1319.4 180.6L1320.4 178.6L1321.6 177.1L1322.8 176.1L1325.8 174.6L1330.7 173.4L1354.7 172.2L1366.7 172.0L1402.7 171.8L1414.7 172.0L1426.7 172.2L1434.9 173.1L1444.5 174.6L1446.6 175.6L1447.6 176.6L1448.2 177.6L1448.8 179.1L1449.2 181.1L1449.4 185.1L1449.3 186.1L1445.8 187.6L1441.1 190.6L1434.9 192.6L1431.0 194.1L1426.7 195.2L1414.7 195.6L1402.7 195.7L1318.7 194.8M1509.9 197.1L1510.7 197.1L1511.0 198.1L1511.5 198.6L1513.1 203.6L1512.7 204.1L1510.7 205.7L1498.7 208.5L1495.1 206.1L1492.0 203.6L1495.4 200.6L1498.7 198.3L1502.9 198.1L1507.7 197.6L1509.9 197.1M1318.7 198.7L1342.1 199.1L1351.3 204.1L1351.2 204.6L1349.9 205.6L1342.3 211.1L1337.8 211.6L1330.7 212.0L1318.7 212.3M1427.8 214.6L1450.7 214.4L1462.7 214.5L1474.7 215.0L1498.7 219.1L1510.7 219.7L1511.9 220.1L1510.7 220.4L1498.7 221.8L1486.7 220.4L1474.7 218.6L1462.7 218.4L1438.7 218.7L1330.7 221.0L1327.8 220.1L1324.6 218.6L1324.5 218.1L1326.0 217.1L1327.6 216.6L1330.7 216.1L1427.8 214.6"/>
<path d="M1318.7 142.3L1330.7 140.8L1345.3 135.6L1356.8 134.6L1375.6 131.6L1390.7 129.5L1426.7 125.7L1430.9 124.6L1438.7 123.0L1446.8 121.1L1450.7 120.5L1462.7 119.5L1474.7 119.1L1522.7 119.1L1534.7 119.9L1558.7 123.3L1570.9 123.6L1582.7 125.2L1606.7 127.9L1612.0 129.6L1614.3 130.6L1617.1 132.1L1617.0 132.6L1606.7 140.4L1602.3 144.1L1597.7 146.1L1589.8 148.1L1576.1 151.1L1563.8 153.6L1546.7 156.7L1542.7 158.1L1538.3 159.1L1534.7 159.7L1522.7 160.3L1486.7 160.7L1474.7 160.4L1462.7 159.8L1450.7 158.2L1445.3 157.1L1438.7 155.4L1426.7 153.1L1390.7 150.3L1354.7 149.2L1345.2 148.6L1330.7 144.9L1318.7 143.9M1386.1 173.6L1402.7 173.4L1426.7 173.8L1438.3 175.6L1441.4 176.6L1444.0 178.1L1445.0 179.1L1446.1 180.6L1446.5 181.6L1446.6 186.1L1444.7 187.1L1439.8 190.6L1434.7 192.1L1429.6 194.1L1426.7 194.9L1414.7 195.2L1402.7 195.3L1340.0 194.6L1326.2 194.1L1323.0 193.6L1322.9 190.6L1324.7 183.6L1325.9 182.1L1327.5 180.6L1330.7 178.5L1342.7 176.9L1349.2 175.6L1354.7 174.9L1366.7 174.1L1386.1 173.6M1434.7 215.1L1454.0 215.1L1462.7 215.2L1474.7 215.7L1480.0 216.6L1482.2 217.6L1486.7 217.7L1491.1 218.6L1490.2 219.1L1486.7 219.5L1481.0 218.6L1479.6 218.1L1474.7 217.8L1462.7 217.8L1330.7 220.4L1326.0 218.6L1326.1 218.1L1327.1 217.6L1330.7 216.6L1434.7 215.1M1493.8 220.1L1498.7 219.8L1503.8 220.1L1498.7 220.8L1493.8 220.1"/>
<path d="M1522.3 119.6L1534.7 120.5L1555.0 123.6L1557.5 124.1L1558.7 124.7L1582.7 129.0L1596.1 131.1L1601.0 132.1L1602.4 132.6L1602.6 133.6L1602.5 134.1L1594.7 140.6L1591.7 143.6L1588.4 146.1L1585.9 147.1L1577.8 149.1L1564.2 152.1L1546.7 155.5L1544.2 156.6L1541.2 157.6L1534.7 159.0L1522.7 159.8L1486.7 160.1L1474.7 159.9L1462.7 159.2L1450.7 157.6L1443.9 156.1L1438.7 154.6L1426.7 152.2L1390.7 149.0L1366.6 147.1L1363.5 146.6L1359.3 145.6L1356.6 144.6L1354.7 143.6L1352.9 143.1L1353.6 142.6L1354.7 142.2L1356.6 140.6L1358.1 139.6L1361.1 138.1L1365.6 136.6L1373.6 134.6L1383.4 132.6L1392.2 131.1L1416.1 128.1L1421.9 127.6L1426.7 126.9L1433.2 125.1L1438.7 123.9L1443.3 122.6L1450.7 121.1L1462.7 120.0L1474.7 119.6L1522.3 119.6M1396.7 175.1L1414.7 175.0L1426.7 175.4L1433.5 176.6L1438.7 177.8L1441.2 179.1L1443.0 180.6L1443.6 181.6L1444.0 185.1L1443.9 186.1L1442.6 187.1L1441.1 188.6L1438.7 190.4L1432.9 192.1L1428.2 194.1L1426.7 194.5L1414.7 194.9L1402.7 195.0L1354.7 194.4L1344.3 194.1L1331.3 193.6L1330.7 193.3L1329.2 191.1L1329.1 190.6L1330.7 184.3L1331.2 183.6L1336.7 182.1L1342.7 180.9L1346.2 179.6L1349.8 178.6L1354.7 177.5L1366.7 176.3L1378.7 175.6L1396.7 175.1M1405.2 216.1L1438.7 215.7L1450.7 215.7L1462.7 215.9L1474.7 216.4L1475.7 216.6L1474.7 217.1L1462.7 217.1L1438.7 217.5L1330.7 219.8L1327.5 218.6L1327.8 218.1L1330.7 217.1L1405.2 216.1"/>
<path d="M1462.2 120.6L1474.7 120.1L1522.7 120.1L1534.7 121.1L1541.3 122.1L1552.2 124.1L1558.7 127.4L1564.6 128.6L1570.7 130.2L1587.6 133.6L1589.3 134.1L1590.0 135.1L1590.4 136.6L1586.7 140.1L1582.7 143.2L1576.6 147.1L1572.8 148.6L1562.3 151.1L1546.7 154.4L1544.2 155.6L1541.5 156.6L1534.7 158.3L1522.7 159.2L1486.7 159.5L1474.7 159.3L1462.7 158.6L1450.7 157.0L1448.7 156.6L1437.2 153.6L1426.7 150.5L1406.9 148.6L1375.3 145.1L1366.7 143.7L1364.9 143.1L1364.3 142.6L1366.7 141.4L1372.1 139.6L1385.4 136.1L1395.0 134.1L1406.9 132.1L1426.7 129.3L1436.0 125.6L1444.4 123.1L1450.7 121.7L1462.2 120.6M1401.1 176.6L1414.7 176.6L1426.7 177.0L1434.2 178.6L1438.7 179.8L1439.1 180.1L1440.5 181.1L1440.8 181.6L1441.3 185.1L1441.2 186.1L1439.6 188.6L1438.7 189.2L1435.4 190.6L1431.1 192.1L1426.7 194.1L1414.7 194.6L1402.7 194.7L1354.7 194.0L1345.5 193.6L1343.3 191.1L1343.1 190.6L1345.4 183.6L1348.7 182.1L1354.7 180.2L1366.7 178.4L1376.4 177.6L1401.1 176.6M1411.4 216.6L1438.7 216.3L1454.0 216.6L1330.7 219.3L1329.0 218.6L1329.4 218.1L1330.7 217.7L1411.4 216.6"/>
<path d="M1462.7 121.1L1474.7 120.7L1522.7 120.6L1534.7 121.7L1542.8 123.1L1546.9 124.1L1552.5 127.1L1558.7 130.0L1564.8 131.6L1570.7 133.5L1579.6 135.6L1582.8 136.6L1575.0 142.1L1567.7 146.6L1564.0 148.6L1558.7 150.5L1546.7 153.2L1544.4 154.6L1541.7 155.6L1538.8 156.6L1534.7 157.6L1522.7 158.7L1486.7 158.9L1474.7 158.7L1462.7 158.1L1450.7 156.4L1443.4 154.6L1440.6 154.1L1439.5 153.6L1438.7 152.4L1433.3 150.6L1426.7 148.8L1397.7 145.6L1386.3 144.1L1377.1 142.6L1384.9 140.1L1396.7 137.1L1411.8 134.1L1426.7 131.7L1433.3 129.1L1438.7 126.7L1439.3 125.6L1440.0 125.1L1445.3 123.6L1450.7 122.4L1462.7 121.1M1408.4 178.1L1414.7 178.1L1426.7 178.6L1432.9 180.1L1436.3 181.1L1437.3 181.6L1437.6 182.1L1438.6 185.1L1437.6 188.1L1426.7 193.5L1417.1 194.1L1402.7 194.4L1374.8 194.1L1354.7 193.7L1353.3 193.6L1350.9 191.1L1350.7 190.6L1353.2 183.6L1354.7 182.9L1358.1 182.1L1366.7 180.6L1378.7 179.3L1402.7 178.1L1408.4 178.1M1376.9 217.6L1379.9 217.6L1376.9 217.6M1337.1 218.1L1357.6 218.1L1342.7 218.3L1337.1 218.1M1330.5 218.6L1330.7 218.4L1334.7 218.6L1330.5 218.6"/>
<path d="M1463.6 121.6L1474.7 121.2L1522.7 121.1L1534.7 122.3L1543.7 124.1L1545.2 125.1L1546.7 127.0L1553.9 130.6L1558.7 132.7L1564.9 134.6L1572.8 137.6L1565.1 143.1L1556.8 147.6L1551.5 150.1L1546.7 151.9L1543.6 154.1L1537.8 156.1L1534.7 156.9L1522.7 158.1L1486.7 158.3L1474.7 158.1L1462.7 157.5L1452.7 156.1L1450.7 155.8L1445.9 154.6L1442.0 154.1L1440.6 153.6L1438.7 150.3L1432.9 148.6L1426.8 147.1L1413.1 145.6L1397.9 143.6L1391.2 142.6L1390.9 142.1L1397.9 140.1L1408.3 137.6L1418.1 135.6L1426.7 134.1L1433.5 131.6L1438.7 129.4L1440.2 126.1L1440.7 125.6L1441.8 125.1L1450.7 123.0L1463.6 121.6M1413.5 179.6L1426.7 180.2L1430.2 181.1L1432.6 182.1L1433.6 185.1L1433.5 187.1L1433.2 188.1L1431.1 189.6L1429.4 191.1L1426.7 192.5L1423.4 193.1L1417.8 193.6L1402.7 194.1L1364.1 193.6L1360.4 191.6L1359.6 191.1L1359.2 190.6L1363.0 184.6L1363.8 183.6L1364.6 183.1L1370.9 182.1L1379.2 181.1L1402.7 179.7L1413.5 179.6"/>
<path d="M1464.4 122.1L1474.7 121.7L1522.7 121.7L1534.7 122.9L1540.7 124.1L1541.9 124.6L1544.2 126.1L1546.7 130.0L1556.8 134.6L1565.0 137.6L1565.1 138.1L1561.5 140.6L1555.6 144.1L1550.8 146.6L1546.7 148.4L1544.6 152.1L1542.8 153.6L1540.5 154.6L1534.7 156.2L1522.7 157.5L1486.7 157.7L1474.7 157.6L1462.7 156.9L1450.7 155.2L1448.3 154.6L1443.5 154.1L1441.8 153.6L1439.3 149.1L1438.7 148.2L1438.2 148.1L1432.5 146.6L1426.7 145.4L1411.7 143.6L1404.6 142.6L1402.3 142.1L1413.9 139.1L1426.7 136.5L1432.4 134.6L1438.7 132.2L1441.5 126.1L1442.2 125.6L1443.5 125.1L1451.1 123.6L1458.8 122.6L1464.4 122.1M1397.4 181.6L1402.7 181.3L1414.7 181.1L1426.7 181.8L1427.6 182.1L1428.6 185.1L1429.0 187.6L1427.2 191.1L1426.7 191.6L1422.4 192.1L1417.9 193.1L1402.7 193.8L1378.5 193.6L1370.6 191.1L1370.0 190.6L1378.4 183.1L1397.4 181.6"/>
<path d="M1465.2 122.6L1474.7 122.2L1522.7 122.2L1534.7 123.5L1539.3 124.6L1541.5 125.6L1542.2 126.1L1544.5 130.1L1546.7 133.1L1558.4 138.1L1553.0 141.6L1546.7 144.9L1544.7 148.1L1542.7 152.1L1541.2 153.6L1540.2 154.1L1534.7 155.6L1522.7 157.0L1474.7 157.0L1462.7 156.3L1450.7 154.6L1444.9 154.1L1443.0 153.6L1440.7 149.1L1438.7 146.1L1431.9 144.6L1426.7 143.6L1414.0 142.1L1414.6 141.6L1427.6 138.6L1438.7 135.0L1440.7 131.1L1442.7 126.1L1443.6 125.6L1445.3 125.1L1450.7 124.2L1462.7 122.7L1465.2 122.6M1402.0 184.6L1402.7 184.3L1414.7 184.5L1418.7 187.6L1419.1 189.1L1417.9 190.1L1414.7 191.9L1402.7 192.9L1390.7 191.3L1386.8 190.6L1390.7 188.7L1402.0 184.6"/>
<path d="M1465.9 123.1L1474.7 122.7L1522.7 122.7L1534.7 124.1L1538.2 125.1L1540.3 126.1L1542.7 131.1L1545.2 134.6L1546.7 136.1L1551.4 138.1L1551.5 138.6L1546.7 141.3L1546.0 142.1L1543.7 145.6L1540.7 152.1L1539.5 153.6L1538.4 154.1L1534.7 155.0L1522.7 156.4L1474.7 156.4L1462.7 155.8L1453.7 154.6L1446.4 154.1L1444.2 153.6L1441.7 148.1L1440.4 146.1L1438.7 144.0L1425.2 141.6L1431.0 140.1L1438.7 137.7L1440.3 135.1L1441.6 132.6L1444.0 126.1L1445.1 125.6L1447.1 125.1L1450.7 124.6L1462.7 123.3L1465.9 123.1"/>
<path d="M1466.5 123.6L1474.7 123.2L1522.7 123.2L1534.7 124.8L1537.4 125.6L1538.4 126.1L1540.1 130.6L1541.6 133.6L1543.4 136.1L1545.8 138.6L1543.7 141.1L1542.1 143.6L1540.4 147.6L1538.8 152.1L1537.9 153.6L1536.7 154.1L1534.7 154.6L1522.7 155.8L1474.7 155.9L1462.7 155.3L1456.6 154.6L1447.8 154.1L1445.4 153.6L1443.4 148.6L1441.4 145.1L1438.7 141.9L1436.8 141.6L1436.6 141.1L1438.7 140.5L1441.0 137.1L1443.3 132.1L1445.2 126.1L1446.5 125.6L1450.7 124.8L1466.5 123.6"/>
<path d="M1466.9 124.1L1474.7 123.7L1522.7 123.7L1534.7 125.4L1536.5 126.1L1538.6 133.1L1540.1 136.1L1541.7 138.6L1540.2 141.6L1539.1 144.1L1537.0 151.6L1536.2 153.6L1534.7 154.2L1522.7 155.3L1474.7 155.3L1462.7 154.9L1459.6 154.6L1450.7 154.2L1446.6 153.6L1445.3 149.6L1444.0 146.6L1442.6 144.1L1440.7 141.6L1440.5 141.1L1442.4 138.1L1443.7 135.1L1445.1 131.1L1446.4 126.1L1448.0 125.6L1450.7 125.1L1466.9 124.1"/>
<path d="M1466.9 124.6L1474.7 124.3L1522.7 124.3L1534.3 126.1L1534.7 127.0L1536.4 135.1L1537.7 138.6L1534.6 153.1L1534.4 153.6L1531.2 154.1L1522.7 154.9L1474.7 154.9L1450.7 154.1L1447.8 153.6L1446.6 149.1L1445.5 146.1L1442.9 141.1L1444.2 138.6L1445.3 135.6L1446.4 131.6L1447.7 126.1L1450.7 125.4L1466.9 124.6"/>
<path d="M1466.9 125.1L1474.7 124.9L1522.7 124.9L1530.3 126.1L1532.1 127.6L1533.0 129.1L1533.7 133.6L1534.3 140.1L1533.6 147.1L1533.0 151.1L1531.9 152.6L1530.5 153.6L1522.7 154.5L1474.7 154.5L1462.7 154.3L1450.7 153.9L1449.0 153.6L1447.2 146.1L1445.3 141.1L1446.2 138.6L1447.1 135.6L1448.9 126.1L1450.7 125.6L1466.9 125.1"/>
<path d="M1466.9 125.6L1522.7 125.5L1526.3 126.1L1527.6 126.6L1529.3 127.6L1530.9 129.1L1531.6 133.6L1532.2 140.1L1531.6 147.1L1530.9 151.1L1529.0 152.6L1526.7 153.6L1522.7 154.1L1474.7 154.1L1462.7 154.0L1450.2 153.6L1448.8 145.6L1447.6 141.1L1448.7 136.1L1450.2 126.1L1466.9 125.6"/>
<path d="M1457.6 126.6L1462.7 126.2L1522.7 126.2L1524.1 126.6L1526.6 127.6L1528.7 129.1L1529.5 133.6L1530.1 140.1L1529.5 147.1L1528.7 151.1L1528.1 151.6L1526.1 152.6L1522.7 153.6L1462.7 153.6L1456.2 153.1L1454.1 152.6L1452.9 152.1L1451.8 151.1L1450.7 147.1L1450.0 141.1L1450.7 133.7L1451.7 129.6L1452.2 128.6L1453.6 127.6L1454.9 127.1L1457.6 126.6"/>
<path d="M1460.1 127.6L1462.7 127.2L1522.7 127.2L1525.0 128.1L1526.6 129.1L1527.4 133.6L1528.1 140.1L1527.4 147.1L1526.6 151.1L1524.7 152.1L1522.7 152.8L1462.7 152.8L1458.5 152.1L1456.7 151.6L1455.7 151.1L1454.4 148.6L1453.6 146.6L1452.8 141.1L1453.7 134.1L1454.5 131.6L1455.7 129.1L1458.0 128.1L1460.1 127.6"/>
<path d="M1460.9 128.6L1462.7 128.2L1522.7 128.2L1524.4 129.1L1525.4 133.6L1526.0 140.1L1525.4 147.1L1524.4 151.1L1522.7 151.9L1462.7 151.9L1459.5 151.1L1458.0 149.1L1456.8 147.1L1455.8 140.6L1456.7 133.6L1458.1 131.1L1459.5 129.1L1460.9 128.6"/>
<path d="M1465.1 129.6L1474.7 129.3L1510.7 129.3L1517.6 129.6L1521.0 130.1L1522.7 130.9L1523.3 133.6L1523.9 140.1L1523.3 147.1L1522.7 149.5L1521.4 150.1L1518.4 150.6L1510.7 150.9L1474.7 150.9L1462.7 150.5L1459.8 147.1L1458.8 140.6L1459.8 133.6L1462.7 129.8L1465.1 129.6"/>
<path d="M1472.6 131.1L1474.7 130.9L1510.7 130.9L1514.7 131.6L1516.4 132.1L1517.6 132.6L1519.2 133.6L1521.0 140.1L1519.5 146.6L1519.2 147.1L1517.3 148.1L1513.6 149.1L1510.7 149.5L1474.7 149.5L1470.7 149.1L1465.5 148.1L1462.9 147.1L1462.6 146.6L1461.8 140.6L1462.7 133.9L1462.9 133.6L1463.9 133.1L1466.8 132.1L1472.6 131.1"/>
<path d="M1473.8 132.6L1474.7 132.4L1510.7 132.4L1514.3 133.6L1514.7 134.1L1516.4 138.6L1516.9 140.6L1514.7 146.6L1514.3 147.1L1510.7 148.1L1474.7 148.1L1471.8 147.6L1469.7 147.1L1469.2 146.6L1466.9 140.6L1469.2 134.1L1469.7 133.6L1473.8 132.6"/>
<path d="M1498.5 134.6L1507.1 135.1L1510.7 135.6L1512.5 139.6L1512.8 140.6L1510.7 145.2L1507.3 145.6L1498.7 146.1L1489.4 145.6L1474.7 144.4L1472.9 140.6L1474.7 136.5L1489.9 135.1L1498.5 134.6"/>
<path d="M1498.5 139.1L1502.5 140.1L1502.7 140.6L1498.7 141.7L1494.3 140.6L1494.8 140.1L1498.5 139.1"/>
</g></defs>
<use href="#cl" clip-path="url(#cout)" stroke="#FF0000" stroke-opacity="0.72"/>
<use href="#cl" clip-path="url(#cbox)" stroke="#b85c5c" stroke-opacity="0.62"/>
<g clip-path="url(#cw)">
<rect x="1444.3" y="120.0" width="91.0" height="7.5" fill="#e00838" fill-opacity="0.55"/>
<rect x="1444.3" y="155" width="91.0" height="7" fill="#e00838" fill-opacity="0.55"/>
<rect x="1444.3" y="120.0" width="91.0" height="42.0" fill="none" stroke="#c05050" stroke-opacity="0.4" stroke-width="1"/>
<path d="M1466 171.6L1481 168.4L1500 167.2L1519.5 166.6L1509 171.8L1489 173.2Z" fill="#1a1a80" stroke="#1a1a80" stroke-width="1"/>
<path d="M1478 170.9L1492 168.9L1512 167.9L1506 170.2L1489 171.4Z" fill="#fff" fill-opacity="0.8"/>
<path d="M1566.5 181L1598 180.2L1601.5 181.8L1597 183.3L1567 183.8L1565.5 182.3Z" fill="#7f7fc8" stroke="#5a5ab8" stroke-width="0.8"/>
<path d="M1528.5 192L1536 187.6L1545 191.8L1536.5 196Z" fill="#5a5ab8" stroke="#3a3aa0" stroke-width="1"/>
<path d="M1466 186.8L1478 187.6L1470 188.4Z" fill="#7f7fc8" stroke="#6a6ac0" stroke-width="0.8"/>
<path d="M1533.5 231.5L1539 231.5L1536.2 234Z" fill="none" stroke="#5a5ab8" stroke-width="0.9"/>
</g>
<g fill="none" stroke="#FF2A2A" stroke-opacity="0.8" stroke-width="1.0" stroke-linejoin="round">
<path d="M1451.5 334.0L1453.8 330.2L1456.0 326.4L1458.5 322.8L1462.6 321.2L1466.8 319.5L1470.9 317.9L1475.1 316.6L1479.5 317.1L1483.9 317.7L1488.3 318.2L1492.7 318.7L1497.1 319.3L1501.5 319.8L1505.9 320.3L1509.9 322.1L1513.8 324.3L1517.6 326.6L1520.8 329.4L1523.0 333.3L1525.1 337.1L1522.9 341.0L1520.7 344.8L1517.4 347.6L1513.6 349.9L1509.8 352.3L1505.9 353.9L1501.4 353.7L1497.0 353.4L1492.6 353.1L1488.1 352.9L1483.7 352.6L1479.3 352.3L1474.8 352.1L1470.7 350.6L1466.6 348.8L1462.6 347.0L1458.5 345.2L1456.0 341.6L1453.8 337.8Z"/>
<path d="M1452.8 334.0L1454.9 330.3L1457.0 326.6L1459.4 323.2L1463.4 321.6L1467.3 320.0L1471.3 318.5L1475.3 317.3L1479.5 317.9L1483.7 318.4L1488.0 318.9L1492.2 319.5L1496.4 320.0L1500.7 320.5L1504.9 321.1L1508.7 322.7L1512.4 324.9L1516.1 327.0L1519.2 329.7L1521.4 333.3L1523.5 337.0L1521.4 340.6L1519.2 344.2L1516.0 346.8L1512.4 349.0L1508.7 351.2L1504.9 352.8L1500.7 352.6L1496.4 352.4L1492.1 352.1L1487.9 351.9L1483.6 351.7L1479.4 351.4L1475.1 351.2L1471.1 349.8L1467.2 348.2L1463.3 346.5L1459.4 344.8L1457.1 341.3L1454.9 337.7Z"/>
<path d="M1455.1 333.9L1457.0 330.5L1458.9 327.1L1461.1 323.9L1464.7 322.4L1468.3 320.9L1472.0 319.7L1475.7 318.7L1479.6 319.2L1483.5 319.8L1487.4 320.3L1491.3 320.8L1495.2 321.4L1499.1 321.9L1503.0 322.4L1506.6 323.9L1510.0 325.9L1513.4 327.8L1516.4 330.2L1518.5 333.4L1520.5 336.7L1518.6 339.9L1516.5 343.1L1513.5 345.5L1510.1 347.4L1506.7 349.4L1503.1 350.8L1499.2 350.6L1495.3 350.5L1491.3 350.3L1487.4 350.2L1483.5 350.0L1479.6 349.8L1475.6 349.7L1471.9 348.5L1468.3 347.1L1464.7 345.6L1461.1 343.9L1458.9 340.8L1457.0 337.4Z"/>
<path d="M1458.0 333.9L1459.7 330.8L1461.4 327.7L1463.3 324.9L1466.4 323.4L1469.6 322.0L1472.9 321.2L1476.2 320.5L1479.7 321.0L1483.2 321.5L1486.6 322.1L1490.1 322.6L1493.6 323.1L1497.1 323.7L1500.5 324.2L1503.8 325.5L1506.8 327.1L1509.9 328.8L1512.6 330.8L1514.7 333.5L1516.6 336.4L1515.0 339.1L1512.9 341.7L1510.2 343.7L1507.1 345.3L1504.0 346.9L1500.8 348.2L1497.3 348.1L1493.8 348.1L1490.3 348.0L1486.8 347.9L1483.3 347.8L1479.8 347.8L1476.3 347.7L1473.0 346.8L1469.7 345.8L1466.5 344.4L1463.4 342.9L1461.4 340.1L1459.7 337.0Z"/>
<path d="M1461.6 333.8L1462.9 331.1L1464.2 328.4L1465.8 326.0L1468.5 324.6L1471.1 323.4L1474.0 322.9L1476.8 322.6L1479.8 323.1L1482.8 323.7L1485.8 324.2L1488.7 324.7L1491.7 325.2L1494.7 325.7L1497.6 326.3L1500.4 327.3L1503.1 328.7L1505.8 330.0L1508.2 331.6L1510.2 333.7L1512.0 336.0L1510.8 338.1L1508.8 340.1L1506.3 341.6L1503.6 342.8L1500.9 344.1L1498.1 345.0L1495.1 345.1L1492.1 345.2L1489.1 345.2L1486.1 345.2L1483.1 345.3L1480.1 345.3L1477.0 345.3L1474.2 344.8L1471.3 344.1L1468.6 343.1L1466.0 341.6L1464.3 339.2L1462.9 336.5Z"/>
<path d="M1465.6 333.8L1466.5 331.5L1467.5 329.3L1468.7 327.2L1470.8 325.9L1472.9 324.9L1475.2 324.9L1477.6 325.0L1480.0 325.5L1482.3 326.0L1484.7 326.6L1487.1 327.1L1489.5 327.6L1491.9 328.1L1494.3 328.6L1496.6 329.4L1498.9 330.4L1501.1 331.4L1503.2 332.4L1505.1 333.9L1506.7 335.6L1505.9 337.0L1504.0 338.2L1501.9 339.2L1499.6 340.0L1497.3 340.8L1495.0 341.5L1492.6 341.7L1490.1 341.9L1487.7 342.1L1485.2 342.2L1482.8 342.4L1480.4 342.5L1477.9 342.7L1475.6 342.5L1473.2 342.3L1471.0 341.5L1469.0 340.2L1467.6 338.2L1466.6 336.0Z"/>
<path d="M1470.0 333.7L1470.6 331.9L1471.1 330.2L1471.9 328.6L1473.3 327.4L1474.8 326.6L1476.6 327.1L1478.3 327.6L1480.1 328.2L1481.9 328.7L1483.6 329.2L1485.4 329.7L1487.2 330.2L1488.9 330.7L1490.7 331.2L1492.4 331.8L1494.2 332.3L1496.0 332.9L1497.7 333.4L1499.4 334.1L1500.9 335.1L1500.6 335.7L1498.8 336.1L1497.0 336.5L1495.2 336.9L1493.4 337.2L1491.6 337.6L1489.8 337.9L1488.0 338.3L1486.2 338.6L1484.3 338.9L1482.5 339.1L1480.7 339.4L1478.9 339.7L1477.1 340.0L1475.3 340.3L1473.7 339.8L1472.2 338.6L1471.2 337.2L1470.6 335.4Z"/>
<path d="M1463.7 522.0L1465.4 518.4L1467.2 514.7L1469.1 511.5L1473.1 511.8L1477.2 512.0L1481.2 512.3L1485.2 512.6L1489.2 512.8L1493.2 513.1L1497.2 513.3L1501.2 513.6L1505.2 514.1L1509.2 514.6L1513.2 515.1L1517.2 515.6L1521.2 516.1L1524.9 517.1L1527.1 520.4L1528.3 523.7L1525.8 526.9L1523.4 530.1L1520.6 532.9L1517.1 534.9L1513.7 537.0L1510.2 539.1L1506.5 540.2L1502.5 540.5L1498.5 540.9L1494.5 541.2L1490.4 541.6L1486.4 541.9L1482.4 542.3L1478.4 542.6L1474.4 543.0L1472.0 539.8L1469.6 536.6L1467.2 533.4L1465.4 529.9L1464.6 525.9Z"/>
<path d="M1465.3 522.6L1466.9 519.3L1468.4 516.0L1470.4 513.3L1474.0 513.6L1477.7 513.8L1481.3 514.0L1485.0 514.3L1488.6 514.5L1492.3 514.7L1495.9 514.9L1499.6 515.2L1503.2 515.7L1506.8 516.1L1510.4 516.6L1514.1 517.0L1517.7 517.5L1521.1 518.4L1523.2 521.3L1524.5 524.1L1522.6 527.0L1520.4 529.9L1517.7 532.3L1514.6 534.0L1511.4 535.8L1508.2 537.5L1504.8 538.4L1501.1 538.7L1497.5 539.0L1493.8 539.3L1490.2 539.6L1486.6 539.9L1482.9 540.2L1479.3 540.5L1475.6 540.8L1473.3 538.1L1471.0 535.4L1468.7 532.7L1466.9 529.7L1466.1 526.2Z"/>
<path d="M1467.8 523.4L1469.0 520.5L1470.3 517.8L1472.2 516.0L1475.3 516.1L1478.4 516.3L1481.5 516.5L1484.7 516.7L1487.8 516.9L1490.9 517.1L1494.0 517.3L1497.1 517.6L1500.2 517.9L1503.3 518.2L1506.4 518.7L1509.5 519.2L1512.6 519.6L1515.5 520.4L1517.5 522.6L1519.0 524.7L1517.8 527.2L1516.0 529.6L1513.6 531.4L1510.8 532.7L1508.0 534.0L1505.3 535.2L1502.3 535.9L1499.2 536.1L1496.1 536.3L1492.9 536.5L1489.8 536.7L1486.7 536.9L1483.6 537.1L1480.5 537.3L1477.4 537.5L1475.2 535.6L1473.0 533.7L1470.9 531.8L1469.1 529.4L1468.3 526.5Z"/>
<path d="M1470.6 524.4L1471.4 522.1L1472.4 520.0L1474.3 519.0L1476.8 519.2L1479.3 519.3L1481.8 519.5L1484.3 519.6L1486.8 519.8L1489.3 519.9L1491.8 520.1L1494.3 520.3L1496.8 520.5L1499.3 520.7L1501.7 521.2L1504.2 521.6L1506.7 522.1L1509.0 522.7L1510.9 524.1L1512.5 525.4L1512.2 527.4L1510.9 529.2L1508.8 530.4L1506.5 531.2L1504.1 531.8L1501.8 532.5L1499.4 532.8L1496.9 532.9L1494.4 533.1L1491.9 533.2L1489.4 533.3L1486.9 533.4L1484.4 533.5L1481.9 533.6L1479.4 533.7L1477.4 532.7L1475.4 531.7L1473.4 530.7L1471.7 529.1L1471.0 526.9Z"/>
<path d="M1473.7 525.5L1474.1 523.7L1474.8 522.3L1476.7 522.4L1478.5 522.5L1480.3 522.6L1482.1 522.7L1483.9 522.9L1485.7 523.0L1487.5 523.1L1489.4 523.2L1491.2 523.3L1493.0 523.4L1494.8 523.5L1496.6 523.9L1498.3 524.4L1500.1 524.8L1501.8 525.3L1503.6 525.7L1505.4 526.2L1506.0 527.6L1505.2 528.8L1503.4 529.4L1501.6 529.5L1499.8 529.5L1498.0 529.5L1496.2 529.5L1494.4 529.5L1492.6 529.5L1490.7 529.5L1488.9 529.5L1487.1 529.5L1485.3 529.5L1483.5 529.5L1481.7 529.5L1479.8 529.5L1478.0 529.5L1476.2 529.5L1474.6 528.8L1473.9 527.3Z"/>
<path d="M1454.4 580.8L1457.0 577.5L1459.6 574.1L1462.2 570.9L1465.8 568.7L1469.4 566.6L1473.1 564.4L1477.0 563.4L1481.3 563.1L1485.5 562.9L1489.7 562.6L1493.9 562.3L1498.1 562.0L1502.3 561.7L1506.4 561.8L1509.9 564.1L1513.5 566.4L1517.0 568.7L1520.4 571.1L1522.1 575.0L1523.9 578.8L1522.5 582.1L1519.7 585.2L1516.7 588.1L1512.9 589.9L1509.0 591.6L1505.1 593.1L1501.0 593.8L1496.8 594.4L1492.6 595.1L1488.5 595.8L1484.3 596.4L1480.1 597.1L1476.0 597.7L1472.1 596.8L1468.4 594.7L1464.7 592.7L1461.0 590.7L1457.3 588.7L1455.8 584.8Z"/>
<path d="M1457.3 581.2L1459.5 578.1L1461.8 575.0L1464.1 571.9L1467.4 569.8L1470.7 567.9L1474.1 566.2L1477.8 565.3L1481.7 565.1L1485.6 564.8L1489.4 564.5L1493.3 564.3L1497.2 564.0L1501.0 563.7L1504.8 563.7L1508.2 565.5L1511.5 567.3L1514.8 569.2L1517.8 571.5L1519.5 575.0L1521.1 578.5L1520.0 581.6L1517.5 584.6L1514.8 587.3L1511.4 589.1L1507.8 590.5L1504.2 591.8L1500.4 592.4L1496.5 593.0L1492.7 593.6L1488.9 594.2L1485.0 594.8L1481.2 595.4L1477.4 596.0L1473.8 595.2L1470.3 593.7L1466.9 592.1L1463.5 590.3L1460.1 588.4L1458.7 584.9Z"/>
<path d="M1460.1 581.7L1462.0 578.7L1463.9 575.8L1466.1 573.0L1468.9 571.0L1472.0 569.3L1475.2 567.9L1478.6 567.3L1482.1 567.0L1485.7 566.7L1489.2 566.5L1492.7 566.2L1496.2 566.0L1499.8 565.7L1503.3 565.7L1506.4 567.0L1509.5 568.2L1512.6 569.6L1515.3 571.9L1516.9 575.0L1518.3 578.2L1517.4 581.2L1515.3 584.0L1513.0 586.6L1509.9 588.3L1506.6 589.4L1503.3 590.5L1499.8 591.0L1496.3 591.5L1492.8 592.1L1489.3 592.6L1485.8 593.1L1482.3 593.7L1478.8 594.2L1475.4 593.7L1472.2 592.7L1469.0 591.6L1465.9 590.0L1462.9 588.1L1461.5 584.9Z"/>
<path d="M1463.0 582.1L1464.6 579.4L1466.1 576.6L1468.0 574.0L1470.5 572.1L1473.3 570.7L1476.2 569.7L1479.4 569.2L1482.5 568.9L1485.7 568.7L1488.9 568.4L1492.1 568.2L1495.3 567.9L1498.5 567.7L1501.7 567.6L1504.6 568.4L1507.6 569.2L1510.4 570.1L1512.8 572.2L1514.3 575.0L1515.5 578.0L1514.9 580.7L1513.2 583.4L1511.1 585.8L1508.5 587.5L1505.4 588.3L1502.4 589.2L1499.2 589.6L1496.0 590.1L1492.8 590.6L1489.7 591.0L1486.5 591.5L1483.3 592.0L1480.2 592.4L1477.1 592.2L1474.1 591.6L1471.1 591.0L1468.4 589.7L1465.7 587.8L1464.3 585.0Z"/>
<path d="M1465.8 582.6L1467.1 580.0L1468.3 577.4L1469.9 575.1L1472.1 573.2L1474.6 572.1L1477.3 571.5L1480.1 571.1L1483.0 570.9L1485.8 570.6L1488.7 570.4L1491.6 570.2L1494.4 569.9L1497.3 569.7L1500.1 569.5L1502.9 569.8L1505.6 570.1L1508.2 570.5L1510.2 572.6L1511.7 575.0L1512.7 577.7L1512.3 580.3L1511.0 582.8L1509.2 585.0L1507.0 586.7L1504.2 587.3L1501.4 587.8L1498.6 588.2L1495.8 588.6L1492.9 589.0L1490.1 589.4L1487.2 589.8L1484.4 590.2L1481.5 590.6L1478.8 590.7L1476.0 590.6L1473.3 590.4L1470.8 589.3L1468.5 587.6L1467.1 585.1Z"/>
<path d="M1468.7 583.0L1469.6 580.6L1470.5 578.3L1471.8 576.2L1473.6 574.4L1475.8 573.5L1478.4 573.2L1480.9 573.0L1483.4 572.8L1485.9 572.6L1488.5 572.3L1491.0 572.1L1493.5 571.9L1496.0 571.7L1498.6 571.5L1501.1 571.2L1503.6 571.0L1506.1 571.0L1507.7 572.9L1509.1 575.0L1509.8 577.4L1509.7 579.8L1508.8 582.2L1507.4 584.2L1505.5 585.8L1503.0 586.2L1500.5 586.5L1498.0 586.9L1495.5 587.2L1493.0 587.5L1490.5 587.9L1488.0 588.2L1485.4 588.5L1482.9 588.9L1480.4 589.2L1477.9 589.5L1475.4 589.9L1473.2 589.0L1471.3 587.3L1470.0 585.2Z"/>
<path d="M1473.7 583.2L1485.5 582.4L1485.8 584.2L1476 584.6Z" fill="#FF2A2A"/>
<path d="M1497.3 578.2L1503 577.4L1506 578.6L1503.5 580.2L1499 579.6Z" fill="#FF2A2A" fill-opacity="0.6"/>
<path d="M1337.6 305.4L1345 308.7L1337.6 312"/>
</g>
<polyline points="1337.0,100.4 1341.0,100.4 1345.0,100.4 1349.0,100.4 1353.0,100.4 1357.0,100.4 1361.0,100.4 1365.0,100.4 1369.0,100.4 1373.0,100.3 1377.0,100.3 1381.0,100.3 1385.0,100.3 1389.0,100.3 1393.0,100.3 1397.0,100.3 1401.0,100.2 1405.0,100.2 1409.0,100.2 1413.0,100.2 1417.0,100.1 1421.0,100.1 1425.0,100.1 1429.0,100.0 1433.0,99.9 1437.0,99.9 1441.0,99.8 1445.0,99.7 1449.0,99.6 1453.0,99.4 1457.0,99.2 1461.0,98.9 1462.0,98.8 1463.0,98.7 1464.0,98.6 1465.0,98.5 1466.0,98.4 1467.0,98.3 1468.0,98.2 1469.0,98.0 1470.0,97.9 1471.0,97.7 1472.0,97.5 1473.0,97.3 1474.0,97.0 1475.0,96.7 1476.0,96.4 1477.0,96.1 1478.0,95.6 1479.0,95.1 1480.0,94.5 1481.0,93.8 1482.0,92.9 1483.0,91.9 1484.0,90.6 1485.0,89.0 1486.0,87.1 1487.0,84.9 1488.0,82.3 1489.0,79.3 1490.0,75.9 1491.0,72.1 1492.0,67.9 1493.0,63.3 1494.0,58.6 1495.0,54.0 1496.0,49.5 1497.0,45.7 1498.0,42.9 1499.0,41.4 1500.0,41.4 1501.0,42.9 1502.0,45.7 1503.0,49.5 1504.0,54.0 1505.0,58.6 1506.0,63.3 1507.0,67.9 1508.0,72.1 1509.0,75.9 1510.0,79.3 1511.0,82.3 1512.0,84.9 1513.0,87.1 1514.0,89.0 1515.0,90.6 1516.0,91.9 1517.0,92.9 1518.0,93.8 1519.0,94.5 1520.0,95.1 1521.0,95.6 1522.0,96.1 1523.0,96.4 1524.0,96.7 1525.0,97.0 1526.0,97.3 1527.0,97.5 1528.0,97.7 1529.0,97.9 1530.0,98.0 1531.0,98.2 1532.0,98.3 1533.0,98.4 1534.0,98.5 1535.0,98.6 1536.0,98.7 1537.0,98.8 1538.0,98.9 1539.0,99.0 1540.0,99.1 1544.0,99.3 1548.0,99.5 1552.0,99.6 1556.0,99.7 1560.0,99.8 1564.0,99.9 1568.0,100.0 1572.0,100.0 1576.0,100.1 1580.0,100.1 1584.0,100.2 1588.0,100.2 1592.0,100.2 1596.0,100.2 1600.0,100.3 1604.0,100.3 1608.0,100.3 1612.0,100.3 1616.0,100.3 1620.0,100.3 1624.0,100.3 1628.0,100.4 1632.0,100.4 1636.0,100.4 1640.0,100.4 1644.0,100.4 1648.0,100.4 1652.0,100.4 1656.0,100.4 1660.0,100.4 1664.0,100.4 1668.0,100.4 1672.0,100.4 1676.0,100.4 1680.0,100.4 1684.0,100.4 1688.0,100.4 1692.0,100.4 1696.0,100.4 1700.0,100.4 1704.0,100.4 1708.0,100.4 1712.0,100.4 1716.0,100.4 1720.0,100.4 1724.0,100.5 1728.0,100.5 1732.0,100.5 1736.0,100.5 1740.0,100.5 1744.0,100.5 1748.0,100.5 1752.0,100.5" fill="none" stroke="#8C3040" stroke-width="1.5" stroke-linejoin="round"/>
<path d="M1320.1 114.9L1320.3 115.8L1320.5 117.0L1320.8 118.5L1321.0 120.0L1321.0 121.5L1320.9 122.9L1320.7 124.4L1320.4 125.9L1320.0 127.4L1319.3 128.6L1318.5 129.7L1317.5 130.6L1316.3 131.4L1314.8 132.2L1313.0 132.9L1310.8 133.6L1308.4 134.2L1305.6 134.8L1302.4 135.3L1298.7 135.8L1294.3 136.2L1289.2 136.5L1283.8 136.8L1278.2 137.1L1272.9 137.3L1267.3 137.5L1261.4 137.7L1255.6 137.8L1250.7 137.9L1247.2 138.0M1247.2 142.3L1250.7 142.4L1255.6 142.5L1261.4 142.6L1267.3 142.7L1272.9 142.9L1278.2 143.1L1283.8 143.3L1289.2 143.5L1294.3 143.8L1298.7 144.3L1302.4 144.9L1305.7 145.7L1308.5 146.5L1310.9 147.5L1313.0 148.6L1314.8 149.8L1316.1 151.1L1317.2 152.6L1318.0 154.1L1318.7 155.8L1319.2 157.7L1319.5 159.7L1319.6 161.9L1319.6 163.9L1319.6 165.8L1319.6 167.5L1319.5 169.1L1319.4 170.6L1319.1 171.9L1318.7 173.0L1318.0 173.8L1317.0 174.4L1315.9 174.9L1314.9 175.3L1314.4 175.8L1314.4 176.4L1314.8 176.9L1315.3 177.4L1315.7 178.0L1315.8 178.7L1315.7 179.5L1315.5 180.4L1315.1 181.3L1314.4 182.2L1313.0 183.0L1311.1 183.7L1308.7 184.3L1305.8 184.8L1302.5 185.3L1298.7 185.8L1294.3 186.3L1289.2 186.7L1283.8 187.1L1278.2 187.5L1272.9 187.8L1267.3 188.1L1261.4 188.3L1255.6 188.5L1250.7 188.6L1247.2 188.7M1247.2 191.0L1252.9 191.1L1261.2 191.3L1270.7 191.6L1279.8 191.8L1287.2 192.1L1292.8 192.4L1297.6 192.7L1301.7 193.0L1305.1 193.3L1308.0 193.6L1310.3 193.8L1311.8 194.1L1312.8 194.3L1313.3 194.5L1313.5 194.7L1313.3 194.9L1312.8 195.2L1311.8 195.4L1310.3 195.6L1308.0 195.9L1305.1 196.2L1301.7 196.4L1297.6 196.7L1292.8 197.0L1287.2 197.3L1279.8 197.6L1270.7 197.9L1261.2 198.2L1252.9 198.5L1247.2 198.7M1247.2 207.3L1253.3 207.5L1262.0 207.7L1272.0 208.0L1281.8 208.3L1290.0 208.6L1296.6 208.8L1302.5 209.0L1307.7 209.2L1312.2 209.4L1316.0 209.6L1319.0 209.8L1321.2 209.9L1322.7 210.0L1323.5 210.2L1323.8 210.3L1323.5 210.5L1322.7 210.6L1321.2 210.8L1319.0 211.0L1316.0 211.2L1312.2 211.4L1307.7 211.7L1302.5 212.0L1296.6 212.3L1290.0 212.6L1281.8 213.0L1272.0 213.4L1262.0 213.8L1253.3 214.1L1247.2 214.4M1247.2 216.2L1249.7 216.3L1253.3 216.5L1257.4 216.6L1261.5 216.8L1265.0 217.0L1267.6 217.2L1269.8 217.3L1271.9 217.4L1274.3 217.6L1277.2 217.9L1281.1 218.2L1285.6 218.6L1290.4 219.1L1294.9 219.6L1298.7 220.2L1301.7 220.9L1304.3 221.6L1306.5 222.5L1308.4 223.4L1310.1 224.5L1311.5 225.8L1312.7 227.2L1313.5 228.7L1314.1 230.2L1314.4 231.6L1314.4 232.9L1314.2 234.1L1313.7 235.3L1312.8 236.4L1311.5 237.3L1309.8 238.1L1307.7 238.7L1305.2 239.3L1302.3 239.8L1298.7 240.2L1294.4 240.6L1289.3 240.9L1283.8 241.2L1278.3 241.4L1272.9 241.6L1267.3 241.8L1261.4 241.9L1255.6 242.0L1250.7 242.1L1247.2 242.2M1247.2 244.6L1254.7 244.7L1265.6 244.8L1278.0 245.0L1290.1 245.2L1300.0 245.3L1307.9 245.4L1314.9 245.4L1321.0 245.5L1326.0 245.6L1330.0 245.7L1332.5 245.8L1333.6 245.8L1333.8 246.0L1333.7 246.3L1333.8 247.0L1334.1 248.3L1334.3 250.0L1334.3 251.9L1334.1 253.7L1333.8 255.0L1333.7 255.7L1333.8 256.1L1333.6 256.3L1332.5 256.4L1330.0 256.6L1326.0 256.9L1321.0 257.1L1314.9 257.3L1307.9 257.6L1300.0 257.9L1290.1 258.3L1278.0 258.9L1265.6 259.4L1254.7 259.9L1247.2 260.2M1247.2 263.0L1250.7 263.2L1255.6 263.5L1261.4 263.8L1267.3 264.1L1272.9 264.5L1278.2 264.8L1283.8 265.1L1289.2 265.4L1294.3 265.9L1298.7 266.5L1302.4 267.3L1305.7 268.2L1308.5 269.3L1310.9 270.5L1313.0 271.7L1314.7 273.0L1316.0 274.5L1317.0 276.0L1317.8 277.5L1318.5 279.0L1319.1 280.5L1319.6 281.9L1320.0 283.4L1320.1 284.7L1320.1 285.8L1319.7 286.6L1319.1 287.1L1318.3 287.6L1317.6 288.0L1317.3 288.6L1317.6 289.3L1318.3 290.1L1319.1 291.0L1319.5 291.9L1319.3 292.9L1317.9 294.0L1315.6 295.1L1313.0 296.4L1311.0 297.5L1310.1 298.6L1310.8 299.5L1312.6 300.4L1314.9 301.1L1317.1 302.0L1318.7 302.9L1319.7 304.0L1320.4 305.1L1320.8 306.4L1321.0 307.5L1321.0 308.6L1320.5 309.5L1319.6 310.4L1318.6 311.2L1317.7 312.1L1317.3 312.9L1317.6 313.7L1318.3 314.3L1319.2 315.1L1319.9 316.0L1320.1 317.2L1319.8 318.8L1319.2 320.8L1318.3 322.9L1317.1 325.1L1315.8 327.2L1314.2 329.2L1312.2 331.3L1310.1 333.4L1307.9 335.4L1305.8 337.3L1303.4 339.1L1300.6 340.8L1298.0 342.5L1296.0 344.1L1295.2 345.8L1295.9 347.5L1297.7 349.2L1300.1 350.9L1302.7 352.6L1305.0 354.4L1307.0 356.3L1309.0 358.3L1310.9 360.3L1312.8 362.4L1314.4 364.4L1315.9 366.5L1317.2 368.6L1318.3 370.7L1319.3 372.7L1320.1 374.5L1320.7 376.1L1321.2 377.5L1321.5 378.9L1321.5 380.0L1321.0 381.0L1319.7 381.8L1317.7 382.3L1315.4 382.7L1313.7 383.1L1313.0 383.6L1313.8 384.2L1315.5 384.8L1317.8 385.5L1319.9 386.3L1321.4 387.3L1322.1 387.8L1322.3 387.8L1322.3 388.3L1322.2 390.4L1322.2 395.0L1322.3 402.9L1322.3 413.4L1322.4 425.4L1322.4 437.9L1322.4 450.0L1322.4 462.5L1322.4 476.2L1322.4 489.7L1322.4 501.4L1322.4 510.0L1322.4 514.7L1322.4 516.4L1322.4 516.3L1322.3 515.7L1322.2 515.8L1322.1 516.6L1322.0 517.1L1321.8 517.6L1321.5 518.1L1321.0 518.7L1320.4 519.4L1319.6 520.1L1318.7 520.9L1317.5 521.7L1315.8 522.4L1313.8 523.1L1311.4 523.8L1308.7 524.5L1305.4 525.2L1301.5 525.8L1296.6 526.4L1291.0 526.9L1284.8 527.4L1278.7 527.8L1272.9 528.1L1267.2 528.3L1261.2 528.5L1255.5 528.6L1250.6 528.6L1247.2 528.7M1247.2 530.6L1252.9 530.8L1261.0 531.1L1270.4 531.4L1279.5 531.8L1287.2 532.1L1293.4 532.4L1299.0 532.7L1303.9 533.0L1308.3 533.3L1312.0 533.6L1315.1 533.8L1317.6 534.0L1319.5 534.2L1320.6 534.3L1321.0 534.5L1320.6 534.7L1319.5 534.8L1317.6 535.0L1315.1 535.2L1312.0 535.4L1308.3 535.7L1303.9 535.9L1299.0 536.2L1293.4 536.6L1287.2 536.9L1279.5 537.3L1270.4 537.7L1261.0 538.1L1252.9 538.5L1247.2 538.7M1247.2 541.0L1250.6 541.1L1255.5 541.1L1261.2 541.2L1267.2 541.4L1272.9 541.6L1278.7 541.9L1284.8 542.2L1291.0 542.5L1296.6 543.0L1301.5 543.5L1305.4 544.1L1308.7 544.7L1311.4 545.5L1313.8 546.3L1315.8 547.3L1317.5 548.4L1318.8 549.7L1319.7 551.1L1320.4 552.6L1321.0 554.4L1321.5 556.5L1321.8 558.9L1321.9 561.4L1321.9 563.8L1321.6 565.9L1321.1 567.6L1320.5 569.2L1319.7 570.6L1318.6 571.8L1317.3 573.0L1315.8 574.1L1314.2 575.0L1312.3 575.8L1310.0 576.6L1307.3 577.3L1303.9 578.0L1299.9 578.6L1295.6 579.2L1291.3 579.7L1287.2 580.2L1282.9 580.6L1278.3 580.9L1273.9 581.1L1270.5 581.4L1268.6 581.7L1268.7 582.1L1270.5 582.4L1273.1 582.8L1276.0 583.2L1278.6 583.6L1281.2 584.0L1284.2 584.3L1287.1 584.7L1289.2 585.0L1290.1 585.4L1289.2 585.8L1287.0 586.1L1284.1 586.5L1281.0 586.9L1278.6 587.3L1276.4 587.7L1274.0 588.1L1271.9 588.5L1270.6 588.9L1270.6 589.3L1272.3 589.7L1275.3 590.1L1279.1 590.6L1283.3 591.1L1287.2 591.6L1291.2 592.2L1295.5 592.8L1299.8 593.5L1303.9 594.2L1307.3 595.0L1310.0 595.9L1312.3 596.8L1314.2 597.8L1315.8 598.9L1317.3 600.2L1318.6 601.6L1319.6 603.2L1320.4 604.9L1321.0 606.8L1321.6 608.8L1322.1 611.3L1322.4 614.3L1322.7 617.3L1322.9 619.9L1323.0 621.7" fill="none" stroke="#8C3040" stroke-width="1.6" stroke-linejoin="round"/>
<path d="M1758.0 114.5V626 M1336.8 626H1758.0 M1758.0 120.4h3.0 M1758.0 138.0h5.0 M1758.0 155.6h3.0 M1758.0 173.1h3.0 M1758.0 190.7h3.0 M1758.0 208.2h5.0 M1758.0 225.8h3.0 M1758.0 243.3h3.0 M1758.0 260.9h3.0 M1758.0 278.4h5.0 M1758.0 296.0h3.0 M1758.0 313.5h3.0 M1758.0 331.1h3.0 M1758.0 348.6h5.0 M1758.0 366.2h3.0 M1758.0 383.7h3.0 M1758.0 401.3h3.0 M1758.0 418.8h5.0 M1758.0 436.4h3.0 M1758.0 453.9h3.0 M1758.0 471.5h3.0 M1758.0 489.0h5.0 M1758.0 506.6h3.0 M1758.0 524.1h3.0 M1758.0 541.7h3.0 M1758.0 559.2h5.0 M1758.0 576.8h3.0 M1758.0 594.3h3.0 M1758.0 611.9h3.0 M1337.6 626v2.5 M1357.2 626v5.5 M1376.8 626v2.5 M1396.4 626v3.5 M1416.0 626v2.5 M1435.6 626v5.5 M1455.2 626v2.5 M1474.8 626v3.5 M1494.4 626v2.5 M1514.0 626v5.5 M1533.6 626v2.5 M1553.2 626v3.5 M1572.8 626v2.5 M1592.4 626v5.5 M1612.0 626v2.5 M1631.6 626v3.5 M1651.2 626v2.5 M1670.8 626v5.5 M1690.4 626v2.5 M1710.0 626v3.5 M1729.6 626v2.5 M1749.2 626v5.5" stroke="#7a7a7a" stroke-width="1.25" fill="none"/>
<path d="M1434 625.6H1757" stroke="#7a7ad8" stroke-width="0.8" fill="none" opacity="0.5"/>
<g font-family="DejaVu Sans Condensed, DejaVu Sans, Liberation Sans, sans-serif" font-size="25.8" fill="#111">
<text x="1763.2" y="148.6">7.50</text>
<text x="1763.2" y="218.8">7.60</text>
<text x="1763.2" y="289.0">7.70</text>
<text x="1763.2" y="359.2">7.80</text>
<text x="1763.2" y="429.4">7.90</text>
<text x="1763.2" y="499.6">8.00</text>
<text x="1763.2" y="569.8">8.10</text>
<text x="1357.7" y="658.2" text-anchor="middle">7.54</text>
<text x="1436.1" y="658.2" text-anchor="middle">7.52</text>
<text x="1514.5" y="658.2" text-anchor="middle">7.50</text>
<text x="1592.9" y="658.2" text-anchor="middle">7.48</text>
<text x="1671.3" y="658.2" text-anchor="middle">7.46</text>
<text x="1749.7" y="658.2" text-anchor="middle">7.44</text>
<text x="1545" y="688.8" text-anchor="middle">f2 (ppm)</text>
<text transform="translate(1838.8,369) rotate(-90)" text-anchor="middle">f1 (ppm)</text>
</g>
<circle cx="1499.6" cy="96.7" r="10.2" fill="#1C69D8" stroke="#123c7a" stroke-width="1"/>
<text x="1520.6" y="80.6" font-family="Liberation Sans, Arial, sans-serif" font-weight="bold" font-size="30" fill="#1F6FD6" transform="translate(0,0)">Hb</text>
<rect x="1328.3" y="324.4" width="15.8" height="46.6" fill="#F58220" stroke="#333" stroke-width="1"/>
<text transform="translate(1353.0,355.9) scale(1,1.045)" font-family="Liberation Sans, Arial, sans-serif" font-size="29.5" fill="#F58220" stroke="#F58220" stroke-width="0.35">Hp3</text>
<rect x="1328.3" y="508.0" width="15.8" height="47.3" fill="#FF33DD" stroke="#333" stroke-width="1"/>
<text transform="translate(1355.5,541.5) scale(1,1.045)" font-family="Liberation Sans, Arial, sans-serif" font-size="29.5" fill="#FF33DD" stroke="#FF33DD" stroke-width="0.7">Hp4</text>
<rect x="1328.3" y="560.7" width="15.8" height="48.1" fill="#8ED04B" stroke="#333" stroke-width="1"/>
<text transform="translate(1355.5,593.9) scale(1,1.045)" font-family="Liberation Sans, Arial, sans-serif" font-size="29.5" fill="#8ED04B" stroke="#8ED04B" stroke-width="0.25">Hp1</text>
<ellipse cx="1489.7" cy="334.5" rx="40.8" ry="27" fill="none" stroke="#3C963C" stroke-width="1.4"/>
<ellipse cx="1497" cy="528.3" rx="38.6" ry="22.5" fill="none" stroke="#3C963C" stroke-width="1.4"/>
<ellipse cx="1488.5" cy="579.3" rx="39.6" ry="25" fill="none" stroke="#3C963C" stroke-width="1.4"/>
<g font-family="DejaVu Sans Condensed, DejaVu Sans, Liberation Sans, sans-serif" font-size="21" fill="#1E1E82">
<text x="1490.6" y="301.8" text-anchor="middle">1.00</text>
<text x="1496.8" y="500" text-anchor="middle">0.55</text>
<text x="1500" y="499.5" font-size="17" fill="#5a5ab0" opacity="0.7">55</text>
<text x="1549.8" y="587.9" text-anchor="middle">0.89</text>
</g>
<path d="M1474.4 401.5l5.6 5.7l-5.6 5.7l-5.6 -5.7z" fill="none" stroke="#6a6ac0" stroke-width="1.3"/>
<circle cx="1474.4" cy="451.3" r="0.9" fill="#6a6ac0"/>
<path d="M1474.4 620.5l-1.6 -3a1.7 1.7 0 1 1 3.2 0z" fill="none" stroke="#6a6ac0" stroke-width="0.9"/>
<path d="M1419 523.2L1443 525.8L1445 528.5L1443.8 535L1419 537.2" fill="none" stroke="#6a6ac0" stroke-width="1.2"/>
</g>
</svg>
</body>
</html>
